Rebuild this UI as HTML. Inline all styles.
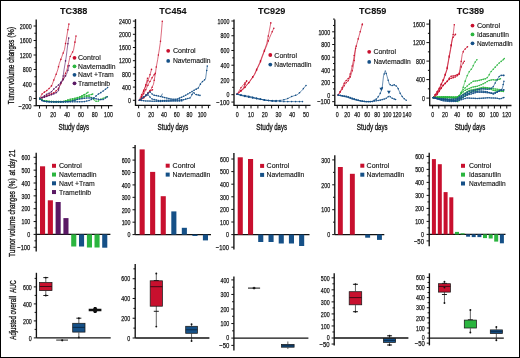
<!DOCTYPE html>
<html><head><meta charset="utf-8"><style>
html,body{margin:0;padding:0;background:#fff;}
svg{display:block;will-change:transform;}
text{font-family:"Liberation Sans", sans-serif;}
</style></head><body>
<svg width="520" height="358" viewBox="0 0 520 358">
<rect width="520" height="358" fill="#fff"/>
<rect x="0.5" y="0.5" width="519" height="357" fill="none" stroke="#000" stroke-width="1"/>
<text x="13.6" y="104.15" font-size="9.4" text-anchor="start" font-weight="normal" fill="#111" textLength="17.6" lengthAdjust="spacingAndGlyphs" transform="rotate(-90 13.6 104.15)" stroke="#111" stroke-width="0.32">Tumor</text>
<text x="13.6" y="85.25" font-size="9.4" text-anchor="start" font-weight="normal" fill="#111" textLength="20.7" lengthAdjust="spacingAndGlyphs" transform="rotate(-90 13.6 85.25)" stroke="#111" stroke-width="0.32">volume</text>
<text x="13.6" y="62.65" font-size="9.4" text-anchor="start" font-weight="normal" fill="#111" textLength="22.9" lengthAdjust="spacingAndGlyphs" transform="rotate(-90 13.6 62.65)" stroke="#111" stroke-width="0.32">changes</text>
<text x="13.6" y="37.85" font-size="9.4" text-anchor="start" font-weight="normal" fill="#111" textLength="11.1" lengthAdjust="spacingAndGlyphs" transform="rotate(-90 13.6 37.85)" stroke="#111" stroke-width="0.32">(%)</text>
<text x="14.8" y="257.05" font-size="9.4" text-anchor="start" font-weight="normal" fill="#111" textLength="18.8" lengthAdjust="spacingAndGlyphs" transform="rotate(-90 14.8 257.05)" stroke="#111" stroke-width="0.32">Tumor</text>
<text x="14.8" y="236.75" font-size="9.4" text-anchor="start" font-weight="normal" fill="#111" textLength="20.5" lengthAdjust="spacingAndGlyphs" transform="rotate(-90 14.8 236.75)" stroke="#111" stroke-width="0.32">volume</text>
<text x="14.8" y="214.55" font-size="9.4" text-anchor="start" font-weight="normal" fill="#111" textLength="23.3" lengthAdjust="spacingAndGlyphs" transform="rotate(-90 14.8 214.55)" stroke="#111" stroke-width="0.32">changes</text>
<text x="14.8" y="188.65" font-size="9.4" text-anchor="start" font-weight="normal" fill="#111" textLength="10.5" lengthAdjust="spacingAndGlyphs" transform="rotate(-90 14.8 188.65)" stroke="#111" stroke-width="0.32">(%)</text>
<text x="14.8" y="175.45" font-size="9.4" text-anchor="start" font-weight="normal" fill="#111" textLength="5.6" lengthAdjust="spacingAndGlyphs" transform="rotate(-90 14.8 175.45)" stroke="#111" stroke-width="0.32">at</text>
<text x="14.8" y="168.15" font-size="9.4" text-anchor="start" font-weight="normal" fill="#111" textLength="9.4" lengthAdjust="spacingAndGlyphs" transform="rotate(-90 14.8 168.15)" stroke="#111" stroke-width="0.32">day</text>
<text x="14.8" y="156.95" font-size="9.4" text-anchor="start" font-weight="normal" fill="#111" textLength="7.2" lengthAdjust="spacingAndGlyphs" transform="rotate(-90 14.8 156.95)" stroke="#111" stroke-width="0.32">21</text>
<text x="16" y="339.65" font-size="9.4" text-anchor="start" font-weight="normal" fill="#111" textLength="23.5" lengthAdjust="spacingAndGlyphs" transform="rotate(-90 16 339.65)" stroke="#111" stroke-width="0.32">Adjusted</text>
<text x="16" y="314.45" font-size="9.4" text-anchor="start" font-weight="normal" fill="#111" textLength="18.6" lengthAdjust="spacingAndGlyphs" transform="rotate(-90 16 314.45)" stroke="#111" stroke-width="0.32">overall</text>
<text x="16" y="292.65" font-size="9.4" text-anchor="start" font-weight="normal" fill="#111" textLength="12.5" lengthAdjust="spacingAndGlyphs" transform="rotate(-90 16 292.65)" stroke="#111" stroke-width="0.32">AUC</text>
<text x="73.7" y="13.7" font-size="9.8" text-anchor="middle" font-weight="bold" fill="#111" textLength="27.3" lengthAdjust="spacingAndGlyphs" stroke="#111" stroke-width="0.1">TC388</text>
<text x="172.95" y="13.7" font-size="9.8" text-anchor="middle" font-weight="bold" fill="#111" textLength="27.3" lengthAdjust="spacingAndGlyphs" stroke="#111" stroke-width="0.1">TC454</text>
<text x="271.65" y="13.7" font-size="9.8" text-anchor="middle" font-weight="bold" fill="#111" textLength="27.3" lengthAdjust="spacingAndGlyphs" stroke="#111" stroke-width="0.1">TC929</text>
<text x="372.7" y="13.7" font-size="9.8" text-anchor="middle" font-weight="bold" fill="#111" textLength="27.3" lengthAdjust="spacingAndGlyphs" stroke="#111" stroke-width="0.1">TC859</text>
<text x="470.45" y="13.7" font-size="9.8" text-anchor="middle" font-weight="bold" fill="#111" textLength="27.3" lengthAdjust="spacingAndGlyphs" stroke="#111" stroke-width="0.1">TC389</text>
<line x1="36.2" y1="19.5" x2="36.2" y2="105.6" stroke="#111" stroke-width="1.35"/>
<line x1="33.6" y1="26" x2="36.2" y2="26" stroke="#111" stroke-width="1"/>
<text x="31.6" y="28.75" font-size="7.9" text-anchor="end" font-weight="normal" fill="#111" textLength="11.8" lengthAdjust="spacingAndGlyphs" stroke="#111" stroke-width="0.25">2000</text>
<line x1="33.6" y1="40.5" x2="36.2" y2="40.5" stroke="#111" stroke-width="1"/>
<text x="31.6" y="43.25" font-size="7.9" text-anchor="end" font-weight="normal" fill="#111" textLength="11.8" lengthAdjust="spacingAndGlyphs" stroke="#111" stroke-width="0.25">1600</text>
<line x1="33.6" y1="55" x2="36.2" y2="55" stroke="#111" stroke-width="1"/>
<text x="31.6" y="57.75" font-size="7.9" text-anchor="end" font-weight="normal" fill="#111" textLength="11.8" lengthAdjust="spacingAndGlyphs" stroke="#111" stroke-width="0.25">1200</text>
<line x1="33.6" y1="69.5" x2="36.2" y2="69.5" stroke="#111" stroke-width="1"/>
<text x="31.6" y="72.25" font-size="7.9" text-anchor="end" font-weight="normal" fill="#111" textLength="8.85" lengthAdjust="spacingAndGlyphs" stroke="#111" stroke-width="0.25">800</text>
<line x1="33.6" y1="84" x2="36.2" y2="84" stroke="#111" stroke-width="1"/>
<text x="31.6" y="86.75" font-size="7.9" text-anchor="end" font-weight="normal" fill="#111" textLength="8.85" lengthAdjust="spacingAndGlyphs" stroke="#111" stroke-width="0.25">400</text>
<line x1="33.6" y1="98.5" x2="36.2" y2="98.5" stroke="#111" stroke-width="1"/>
<text x="31.6" y="101.25" font-size="7.9" text-anchor="end" font-weight="normal" fill="#111" textLength="2.95" lengthAdjust="spacingAndGlyphs" stroke="#111" stroke-width="0.25">0</text>
<line x1="33.6" y1="105.75" x2="36.2" y2="105.75" stroke="#111" stroke-width="1"/>
<text x="31.6" y="108.5" font-size="7.9" text-anchor="end" font-weight="normal" fill="#111" textLength="13.05" lengthAdjust="spacingAndGlyphs" stroke="#111" stroke-width="0.25">−200</text>
<line x1="34.4" y1="33.25" x2="36.2" y2="33.25" stroke="#111" stroke-width="1"/>
<line x1="34.4" y1="47.75" x2="36.2" y2="47.75" stroke="#111" stroke-width="1"/>
<line x1="34.4" y1="62.25" x2="36.2" y2="62.25" stroke="#111" stroke-width="1"/>
<line x1="34.4" y1="76.75" x2="36.2" y2="76.75" stroke="#111" stroke-width="1"/>
<line x1="34.4" y1="91.25" x2="36.2" y2="91.25" stroke="#111" stroke-width="1"/>
<line x1="35.6" y1="105.6" x2="112.5" y2="105.6" stroke="#111" stroke-width="1.35"/>
<line x1="39.5" y1="105.6" x2="39.5" y2="108.6" stroke="#111" stroke-width="1"/>
<line x1="46.4" y1="105.6" x2="46.4" y2="108.6" stroke="#111" stroke-width="1"/>
<line x1="53.3" y1="105.6" x2="53.3" y2="108.6" stroke="#111" stroke-width="1"/>
<line x1="60.2" y1="105.6" x2="60.2" y2="108.6" stroke="#111" stroke-width="1"/>
<line x1="67.1" y1="105.6" x2="67.1" y2="108.6" stroke="#111" stroke-width="1"/>
<line x1="74" y1="105.6" x2="74" y2="108.6" stroke="#111" stroke-width="1"/>
<line x1="80.9" y1="105.6" x2="80.9" y2="108.6" stroke="#111" stroke-width="1"/>
<line x1="87.8" y1="105.6" x2="87.8" y2="108.6" stroke="#111" stroke-width="1"/>
<line x1="94.7" y1="105.6" x2="94.7" y2="108.6" stroke="#111" stroke-width="1"/>
<line x1="101.6" y1="105.6" x2="101.6" y2="108.6" stroke="#111" stroke-width="1"/>
<line x1="108.5" y1="105.6" x2="108.5" y2="108.6" stroke="#111" stroke-width="1"/>
<text x="39.5" y="117.4" font-size="7.9" text-anchor="middle" font-weight="normal" fill="#111" textLength="2.95" lengthAdjust="spacingAndGlyphs" stroke="#111" stroke-width="0.25">0</text>
<text x="53.3" y="117.4" font-size="7.9" text-anchor="middle" font-weight="normal" fill="#111" textLength="5.9" lengthAdjust="spacingAndGlyphs" stroke="#111" stroke-width="0.25">20</text>
<text x="67.1" y="117.4" font-size="7.9" text-anchor="middle" font-weight="normal" fill="#111" textLength="5.9" lengthAdjust="spacingAndGlyphs" stroke="#111" stroke-width="0.25">40</text>
<text x="80.9" y="117.4" font-size="7.9" text-anchor="middle" font-weight="normal" fill="#111" textLength="5.9" lengthAdjust="spacingAndGlyphs" stroke="#111" stroke-width="0.25">60</text>
<text x="94.7" y="117.4" font-size="7.9" text-anchor="middle" font-weight="normal" fill="#111" textLength="5.9" lengthAdjust="spacingAndGlyphs" stroke="#111" stroke-width="0.25">80</text>
<text x="108.5" y="117.4" font-size="7.9" text-anchor="middle" font-weight="normal" fill="#111" textLength="8.85" lengthAdjust="spacingAndGlyphs" stroke="#111" stroke-width="0.25">100</text>
<text x="58.45" y="130.2" font-size="9.4" text-anchor="start" font-weight="normal" fill="#111" textLength="16.3" lengthAdjust="spacingAndGlyphs" stroke="#111" stroke-width="0.32">Study</text>
<text x="76.35" y="130.2" font-size="9.4" text-anchor="start" font-weight="normal" fill="#111" textLength="12.8" lengthAdjust="spacingAndGlyphs" stroke="#111" stroke-width="0.32">days</text>
<line x1="135.5" y1="19.1" x2="135.5" y2="105.3" stroke="#111" stroke-width="1.35"/>
<line x1="132.9" y1="21.1" x2="135.5" y2="21.1" stroke="#111" stroke-width="1"/>
<text x="130.9" y="23.85" font-size="7.9" text-anchor="end" font-weight="normal" fill="#111" textLength="11.8" lengthAdjust="spacingAndGlyphs" stroke="#111" stroke-width="0.25">2400</text>
<line x1="132.9" y1="34.3" x2="135.5" y2="34.3" stroke="#111" stroke-width="1"/>
<text x="130.9" y="37.05" font-size="7.9" text-anchor="end" font-weight="normal" fill="#111" textLength="11.8" lengthAdjust="spacingAndGlyphs" stroke="#111" stroke-width="0.25">2000</text>
<line x1="132.9" y1="47.5" x2="135.5" y2="47.5" stroke="#111" stroke-width="1"/>
<text x="130.9" y="50.25" font-size="7.9" text-anchor="end" font-weight="normal" fill="#111" textLength="11.8" lengthAdjust="spacingAndGlyphs" stroke="#111" stroke-width="0.25">1600</text>
<line x1="132.9" y1="60.7" x2="135.5" y2="60.7" stroke="#111" stroke-width="1"/>
<text x="130.9" y="63.45" font-size="7.9" text-anchor="end" font-weight="normal" fill="#111" textLength="11.8" lengthAdjust="spacingAndGlyphs" stroke="#111" stroke-width="0.25">1200</text>
<line x1="132.9" y1="73.9" x2="135.5" y2="73.9" stroke="#111" stroke-width="1"/>
<text x="130.9" y="76.65" font-size="7.9" text-anchor="end" font-weight="normal" fill="#111" textLength="8.85" lengthAdjust="spacingAndGlyphs" stroke="#111" stroke-width="0.25">800</text>
<line x1="132.9" y1="87.1" x2="135.5" y2="87.1" stroke="#111" stroke-width="1"/>
<text x="130.9" y="89.85" font-size="7.9" text-anchor="end" font-weight="normal" fill="#111" textLength="8.85" lengthAdjust="spacingAndGlyphs" stroke="#111" stroke-width="0.25">400</text>
<line x1="132.9" y1="100.3" x2="135.5" y2="100.3" stroke="#111" stroke-width="1"/>
<text x="130.9" y="103.05" font-size="7.9" text-anchor="end" font-weight="normal" fill="#111" textLength="2.95" lengthAdjust="spacingAndGlyphs" stroke="#111" stroke-width="0.25">0</text>
<line x1="133.7" y1="27.7" x2="135.5" y2="27.7" stroke="#111" stroke-width="1"/>
<line x1="133.7" y1="40.9" x2="135.5" y2="40.9" stroke="#111" stroke-width="1"/>
<line x1="133.7" y1="54.1" x2="135.5" y2="54.1" stroke="#111" stroke-width="1"/>
<line x1="133.7" y1="67.3" x2="135.5" y2="67.3" stroke="#111" stroke-width="1"/>
<line x1="133.7" y1="80.5" x2="135.5" y2="80.5" stroke="#111" stroke-width="1"/>
<line x1="133.7" y1="93.7" x2="135.5" y2="93.7" stroke="#111" stroke-width="1"/>
<line x1="134.9" y1="105.3" x2="210.5" y2="105.3" stroke="#111" stroke-width="1.35"/>
<line x1="138.6" y1="105.3" x2="138.6" y2="108.3" stroke="#111" stroke-width="1"/>
<line x1="144.95" y1="105.3" x2="144.95" y2="108.3" stroke="#111" stroke-width="1"/>
<line x1="151.3" y1="105.3" x2="151.3" y2="108.3" stroke="#111" stroke-width="1"/>
<line x1="157.65" y1="105.3" x2="157.65" y2="108.3" stroke="#111" stroke-width="1"/>
<line x1="164" y1="105.3" x2="164" y2="108.3" stroke="#111" stroke-width="1"/>
<line x1="170.35" y1="105.3" x2="170.35" y2="108.3" stroke="#111" stroke-width="1"/>
<line x1="176.7" y1="105.3" x2="176.7" y2="108.3" stroke="#111" stroke-width="1"/>
<line x1="183.05" y1="105.3" x2="183.05" y2="108.3" stroke="#111" stroke-width="1"/>
<line x1="189.4" y1="105.3" x2="189.4" y2="108.3" stroke="#111" stroke-width="1"/>
<line x1="195.75" y1="105.3" x2="195.75" y2="108.3" stroke="#111" stroke-width="1"/>
<line x1="202.1" y1="105.3" x2="202.1" y2="108.3" stroke="#111" stroke-width="1"/>
<line x1="208.45" y1="105.3" x2="208.45" y2="108.3" stroke="#111" stroke-width="1"/>
<text x="138.6" y="117.4" font-size="7.9" text-anchor="middle" font-weight="normal" fill="#111" textLength="2.95" lengthAdjust="spacingAndGlyphs" stroke="#111" stroke-width="0.25">0</text>
<text x="151.3" y="117.4" font-size="7.9" text-anchor="middle" font-weight="normal" fill="#111" textLength="5.9" lengthAdjust="spacingAndGlyphs" stroke="#111" stroke-width="0.25">20</text>
<text x="164" y="117.4" font-size="7.9" text-anchor="middle" font-weight="normal" fill="#111" textLength="5.9" lengthAdjust="spacingAndGlyphs" stroke="#111" stroke-width="0.25">40</text>
<text x="176.7" y="117.4" font-size="7.9" text-anchor="middle" font-weight="normal" fill="#111" textLength="5.9" lengthAdjust="spacingAndGlyphs" stroke="#111" stroke-width="0.25">60</text>
<text x="189.4" y="117.4" font-size="7.9" text-anchor="middle" font-weight="normal" fill="#111" textLength="5.9" lengthAdjust="spacingAndGlyphs" stroke="#111" stroke-width="0.25">80</text>
<text x="202.1" y="117.4" font-size="7.9" text-anchor="middle" font-weight="normal" fill="#111" textLength="8.85" lengthAdjust="spacingAndGlyphs" stroke="#111" stroke-width="0.25">100</text>
<text x="157.55" y="130.2" font-size="9.4" text-anchor="start" font-weight="normal" fill="#111" textLength="16.3" lengthAdjust="spacingAndGlyphs" stroke="#111" stroke-width="0.32">Study</text>
<text x="175.45" y="130.2" font-size="9.4" text-anchor="start" font-weight="normal" fill="#111" textLength="12.8" lengthAdjust="spacingAndGlyphs" stroke="#111" stroke-width="0.32">days</text>
<line x1="234" y1="19.5" x2="234" y2="105.4" stroke="#111" stroke-width="1.35"/>
<line x1="231.4" y1="21" x2="234" y2="21" stroke="#111" stroke-width="1"/>
<text x="229.4" y="23.75" font-size="7.9" text-anchor="end" font-weight="normal" fill="#111" textLength="11.8" lengthAdjust="spacingAndGlyphs" stroke="#111" stroke-width="0.25">1000</text>
<line x1="231.4" y1="35.74" x2="234" y2="35.74" stroke="#111" stroke-width="1"/>
<text x="229.4" y="38.49" font-size="7.9" text-anchor="end" font-weight="normal" fill="#111" textLength="8.85" lengthAdjust="spacingAndGlyphs" stroke="#111" stroke-width="0.25">800</text>
<line x1="231.4" y1="50.48" x2="234" y2="50.48" stroke="#111" stroke-width="1"/>
<text x="229.4" y="53.23" font-size="7.9" text-anchor="end" font-weight="normal" fill="#111" textLength="8.85" lengthAdjust="spacingAndGlyphs" stroke="#111" stroke-width="0.25">600</text>
<line x1="231.4" y1="65.22" x2="234" y2="65.22" stroke="#111" stroke-width="1"/>
<text x="229.4" y="67.97" font-size="7.9" text-anchor="end" font-weight="normal" fill="#111" textLength="8.85" lengthAdjust="spacingAndGlyphs" stroke="#111" stroke-width="0.25">400</text>
<line x1="231.4" y1="79.96" x2="234" y2="79.96" stroke="#111" stroke-width="1"/>
<text x="229.4" y="82.71" font-size="7.9" text-anchor="end" font-weight="normal" fill="#111" textLength="8.85" lengthAdjust="spacingAndGlyphs" stroke="#111" stroke-width="0.25">200</text>
<line x1="231.4" y1="94.7" x2="234" y2="94.7" stroke="#111" stroke-width="1"/>
<text x="229.4" y="97.45" font-size="7.9" text-anchor="end" font-weight="normal" fill="#111" textLength="2.95" lengthAdjust="spacingAndGlyphs" stroke="#111" stroke-width="0.25">0</text>
<line x1="231.4" y1="102.07" x2="234" y2="102.07" stroke="#111" stroke-width="1"/>
<text x="229.4" y="104.82" font-size="7.9" text-anchor="end" font-weight="normal" fill="#111" textLength="13.05" lengthAdjust="spacingAndGlyphs" stroke="#111" stroke-width="0.25">−100</text>
<line x1="232.2" y1="28.37" x2="234" y2="28.37" stroke="#111" stroke-width="1"/>
<line x1="232.2" y1="43.11" x2="234" y2="43.11" stroke="#111" stroke-width="1"/>
<line x1="232.2" y1="57.85" x2="234" y2="57.85" stroke="#111" stroke-width="1"/>
<line x1="232.2" y1="72.59" x2="234" y2="72.59" stroke="#111" stroke-width="1"/>
<line x1="232.2" y1="87.33" x2="234" y2="87.33" stroke="#111" stroke-width="1"/>
<line x1="233.4" y1="105.4" x2="310.5" y2="105.4" stroke="#111" stroke-width="1.35"/>
<line x1="237.3" y1="105.4" x2="237.3" y2="108.4" stroke="#111" stroke-width="1"/>
<line x1="244.16" y1="105.4" x2="244.16" y2="108.4" stroke="#111" stroke-width="1"/>
<line x1="251.02" y1="105.4" x2="251.02" y2="108.4" stroke="#111" stroke-width="1"/>
<line x1="257.88" y1="105.4" x2="257.88" y2="108.4" stroke="#111" stroke-width="1"/>
<line x1="264.74" y1="105.4" x2="264.74" y2="108.4" stroke="#111" stroke-width="1"/>
<line x1="271.6" y1="105.4" x2="271.6" y2="108.4" stroke="#111" stroke-width="1"/>
<line x1="278.46" y1="105.4" x2="278.46" y2="108.4" stroke="#111" stroke-width="1"/>
<line x1="285.32" y1="105.4" x2="285.32" y2="108.4" stroke="#111" stroke-width="1"/>
<line x1="292.18" y1="105.4" x2="292.18" y2="108.4" stroke="#111" stroke-width="1"/>
<line x1="299.04" y1="105.4" x2="299.04" y2="108.4" stroke="#111" stroke-width="1"/>
<line x1="305.9" y1="105.4" x2="305.9" y2="108.4" stroke="#111" stroke-width="1"/>
<text x="237.3" y="117.4" font-size="7.9" text-anchor="middle" font-weight="normal" fill="#111" textLength="2.95" lengthAdjust="spacingAndGlyphs" stroke="#111" stroke-width="0.25">0</text>
<text x="251.02" y="117.4" font-size="7.9" text-anchor="middle" font-weight="normal" fill="#111" textLength="5.9" lengthAdjust="spacingAndGlyphs" stroke="#111" stroke-width="0.25">10</text>
<text x="264.74" y="117.4" font-size="7.9" text-anchor="middle" font-weight="normal" fill="#111" textLength="5.9" lengthAdjust="spacingAndGlyphs" stroke="#111" stroke-width="0.25">20</text>
<text x="278.46" y="117.4" font-size="7.9" text-anchor="middle" font-weight="normal" fill="#111" textLength="5.9" lengthAdjust="spacingAndGlyphs" stroke="#111" stroke-width="0.25">30</text>
<text x="292.18" y="117.4" font-size="7.9" text-anchor="middle" font-weight="normal" fill="#111" textLength="5.9" lengthAdjust="spacingAndGlyphs" stroke="#111" stroke-width="0.25">40</text>
<text x="305.9" y="117.4" font-size="7.9" text-anchor="middle" font-weight="normal" fill="#111" textLength="5.9" lengthAdjust="spacingAndGlyphs" stroke="#111" stroke-width="0.25">50</text>
<text x="256.35" y="130.2" font-size="9.4" text-anchor="start" font-weight="normal" fill="#111" textLength="16.3" lengthAdjust="spacingAndGlyphs" stroke="#111" stroke-width="0.32">Study</text>
<text x="274.25" y="130.2" font-size="9.4" text-anchor="start" font-weight="normal" fill="#111" textLength="12.8" lengthAdjust="spacingAndGlyphs" stroke="#111" stroke-width="0.32">days</text>
<line x1="334.8" y1="19.6" x2="334.8" y2="105.4" stroke="#111" stroke-width="1.35"/>
<line x1="332.2" y1="31.8" x2="334.8" y2="31.8" stroke="#111" stroke-width="1"/>
<text x="330.2" y="34.55" font-size="7.9" text-anchor="end" font-weight="normal" fill="#111" textLength="11.8" lengthAdjust="spacingAndGlyphs" stroke="#111" stroke-width="0.25">1000</text>
<line x1="332.2" y1="44.5" x2="334.8" y2="44.5" stroke="#111" stroke-width="1"/>
<text x="330.2" y="47.25" font-size="7.9" text-anchor="end" font-weight="normal" fill="#111" textLength="8.85" lengthAdjust="spacingAndGlyphs" stroke="#111" stroke-width="0.25">800</text>
<line x1="332.2" y1="57.2" x2="334.8" y2="57.2" stroke="#111" stroke-width="1"/>
<text x="330.2" y="59.95" font-size="7.9" text-anchor="end" font-weight="normal" fill="#111" textLength="8.85" lengthAdjust="spacingAndGlyphs" stroke="#111" stroke-width="0.25">600</text>
<line x1="332.2" y1="69.9" x2="334.8" y2="69.9" stroke="#111" stroke-width="1"/>
<text x="330.2" y="72.65" font-size="7.9" text-anchor="end" font-weight="normal" fill="#111" textLength="8.85" lengthAdjust="spacingAndGlyphs" stroke="#111" stroke-width="0.25">400</text>
<line x1="332.2" y1="82.6" x2="334.8" y2="82.6" stroke="#111" stroke-width="1"/>
<text x="330.2" y="85.35" font-size="7.9" text-anchor="end" font-weight="normal" fill="#111" textLength="8.85" lengthAdjust="spacingAndGlyphs" stroke="#111" stroke-width="0.25">200</text>
<line x1="332.2" y1="95.3" x2="334.8" y2="95.3" stroke="#111" stroke-width="1"/>
<text x="330.2" y="98.05" font-size="7.9" text-anchor="end" font-weight="normal" fill="#111" textLength="2.95" lengthAdjust="spacingAndGlyphs" stroke="#111" stroke-width="0.25">0</text>
<line x1="332.2" y1="101.65" x2="334.8" y2="101.65" stroke="#111" stroke-width="1"/>
<text x="330.2" y="104.4" font-size="7.9" text-anchor="end" font-weight="normal" fill="#111" textLength="13.05" lengthAdjust="spacingAndGlyphs" stroke="#111" stroke-width="0.25">−100</text>
<line x1="333" y1="19.1" x2="334.8" y2="19.1" stroke="#111" stroke-width="1"/>
<line x1="333" y1="25.45" x2="334.8" y2="25.45" stroke="#111" stroke-width="1"/>
<line x1="333" y1="38.15" x2="334.8" y2="38.15" stroke="#111" stroke-width="1"/>
<line x1="333" y1="50.85" x2="334.8" y2="50.85" stroke="#111" stroke-width="1"/>
<line x1="333" y1="63.55" x2="334.8" y2="63.55" stroke="#111" stroke-width="1"/>
<line x1="333" y1="76.25" x2="334.8" y2="76.25" stroke="#111" stroke-width="1"/>
<line x1="333" y1="88.95" x2="334.8" y2="88.95" stroke="#111" stroke-width="1"/>
<line x1="334.2" y1="105.4" x2="411.5" y2="105.4" stroke="#111" stroke-width="1.35"/>
<line x1="337.3" y1="105.4" x2="337.3" y2="108.4" stroke="#111" stroke-width="1"/>
<line x1="342.28" y1="105.4" x2="342.28" y2="108.4" stroke="#111" stroke-width="1"/>
<line x1="347.26" y1="105.4" x2="347.26" y2="108.4" stroke="#111" stroke-width="1"/>
<line x1="352.24" y1="105.4" x2="352.24" y2="108.4" stroke="#111" stroke-width="1"/>
<line x1="357.22" y1="105.4" x2="357.22" y2="108.4" stroke="#111" stroke-width="1"/>
<line x1="362.2" y1="105.4" x2="362.2" y2="108.4" stroke="#111" stroke-width="1"/>
<line x1="367.18" y1="105.4" x2="367.18" y2="108.4" stroke="#111" stroke-width="1"/>
<line x1="372.16" y1="105.4" x2="372.16" y2="108.4" stroke="#111" stroke-width="1"/>
<line x1="377.14" y1="105.4" x2="377.14" y2="108.4" stroke="#111" stroke-width="1"/>
<line x1="382.12" y1="105.4" x2="382.12" y2="108.4" stroke="#111" stroke-width="1"/>
<line x1="387.1" y1="105.4" x2="387.1" y2="108.4" stroke="#111" stroke-width="1"/>
<line x1="392.08" y1="105.4" x2="392.08" y2="108.4" stroke="#111" stroke-width="1"/>
<line x1="397.06" y1="105.4" x2="397.06" y2="108.4" stroke="#111" stroke-width="1"/>
<line x1="402.04" y1="105.4" x2="402.04" y2="108.4" stroke="#111" stroke-width="1"/>
<line x1="407.02" y1="105.4" x2="407.02" y2="108.4" stroke="#111" stroke-width="1"/>
<text x="337.3" y="117.4" font-size="7.9" text-anchor="middle" font-weight="normal" fill="#111" textLength="2.95" lengthAdjust="spacingAndGlyphs" stroke="#111" stroke-width="0.25">0</text>
<text x="347.26" y="117.4" font-size="7.9" text-anchor="middle" font-weight="normal" fill="#111" textLength="5.9" lengthAdjust="spacingAndGlyphs" stroke="#111" stroke-width="0.25">20</text>
<text x="357.22" y="117.4" font-size="7.9" text-anchor="middle" font-weight="normal" fill="#111" textLength="5.9" lengthAdjust="spacingAndGlyphs" stroke="#111" stroke-width="0.25">40</text>
<text x="367.18" y="117.4" font-size="7.9" text-anchor="middle" font-weight="normal" fill="#111" textLength="5.9" lengthAdjust="spacingAndGlyphs" stroke="#111" stroke-width="0.25">60</text>
<text x="377.14" y="117.4" font-size="7.9" text-anchor="middle" font-weight="normal" fill="#111" textLength="5.9" lengthAdjust="spacingAndGlyphs" stroke="#111" stroke-width="0.25">80</text>
<text x="387.1" y="117.4" font-size="7.9" text-anchor="middle" font-weight="normal" fill="#111" textLength="8.85" lengthAdjust="spacingAndGlyphs" stroke="#111" stroke-width="0.25">100</text>
<text x="397.06" y="117.4" font-size="7.9" text-anchor="middle" font-weight="normal" fill="#111" textLength="8.85" lengthAdjust="spacingAndGlyphs" stroke="#111" stroke-width="0.25">120</text>
<text x="407.02" y="117.4" font-size="7.9" text-anchor="middle" font-weight="normal" fill="#111" textLength="8.85" lengthAdjust="spacingAndGlyphs" stroke="#111" stroke-width="0.25">140</text>
<text x="356.85" y="130.2" font-size="9.4" text-anchor="start" font-weight="normal" fill="#111" textLength="16.3" lengthAdjust="spacingAndGlyphs" stroke="#111" stroke-width="0.32">Study</text>
<text x="374.75" y="130.2" font-size="9.4" text-anchor="start" font-weight="normal" fill="#111" textLength="12.8" lengthAdjust="spacingAndGlyphs" stroke="#111" stroke-width="0.32">days</text>
<line x1="429.7" y1="19.6" x2="429.7" y2="105.5" stroke="#111" stroke-width="1.35"/>
<line x1="426.4" y1="24.1" x2="429.7" y2="24.1" stroke="#111" stroke-width="1"/>
<text x="424.9" y="26.85" font-size="7.9" text-anchor="end" font-weight="normal" fill="#111" textLength="11.8" lengthAdjust="spacingAndGlyphs" stroke="#111" stroke-width="0.25">1600</text>
<line x1="426.4" y1="42.6" x2="429.7" y2="42.6" stroke="#111" stroke-width="1"/>
<text x="424.9" y="45.35" font-size="7.9" text-anchor="end" font-weight="normal" fill="#111" textLength="11.8" lengthAdjust="spacingAndGlyphs" stroke="#111" stroke-width="0.25">1200</text>
<line x1="426.4" y1="61.1" x2="429.7" y2="61.1" stroke="#111" stroke-width="1"/>
<text x="424.9" y="63.85" font-size="7.9" text-anchor="end" font-weight="normal" fill="#111" textLength="8.85" lengthAdjust="spacingAndGlyphs" stroke="#111" stroke-width="0.25">800</text>
<line x1="426.4" y1="79.6" x2="429.7" y2="79.6" stroke="#111" stroke-width="1"/>
<text x="424.9" y="82.35" font-size="7.9" text-anchor="end" font-weight="normal" fill="#111" textLength="8.85" lengthAdjust="spacingAndGlyphs" stroke="#111" stroke-width="0.25">400</text>
<line x1="426.4" y1="98.1" x2="429.7" y2="98.1" stroke="#111" stroke-width="1"/>
<text x="424.9" y="100.85" font-size="7.9" text-anchor="end" font-weight="normal" fill="#111" textLength="2.95" lengthAdjust="spacingAndGlyphs" stroke="#111" stroke-width="0.25">0</text>
<line x1="427.9" y1="33.35" x2="429.7" y2="33.35" stroke="#111" stroke-width="1"/>
<line x1="427.9" y1="51.85" x2="429.7" y2="51.85" stroke="#111" stroke-width="1"/>
<line x1="427.9" y1="70.35" x2="429.7" y2="70.35" stroke="#111" stroke-width="1"/>
<line x1="427.9" y1="88.85" x2="429.7" y2="88.85" stroke="#111" stroke-width="1"/>
<line x1="429.1" y1="105.5" x2="511.5" y2="105.5" stroke="#111" stroke-width="1.35"/>
<line x1="432.6" y1="105.5" x2="432.6" y2="108.5" stroke="#111" stroke-width="1"/>
<line x1="438.78" y1="105.5" x2="438.78" y2="108.5" stroke="#111" stroke-width="1"/>
<line x1="444.96" y1="105.5" x2="444.96" y2="108.5" stroke="#111" stroke-width="1"/>
<line x1="451.14" y1="105.5" x2="451.14" y2="108.5" stroke="#111" stroke-width="1"/>
<line x1="457.32" y1="105.5" x2="457.32" y2="108.5" stroke="#111" stroke-width="1"/>
<line x1="463.5" y1="105.5" x2="463.5" y2="108.5" stroke="#111" stroke-width="1"/>
<line x1="469.68" y1="105.5" x2="469.68" y2="108.5" stroke="#111" stroke-width="1"/>
<line x1="475.86" y1="105.5" x2="475.86" y2="108.5" stroke="#111" stroke-width="1"/>
<line x1="482.04" y1="105.5" x2="482.04" y2="108.5" stroke="#111" stroke-width="1"/>
<line x1="488.22" y1="105.5" x2="488.22" y2="108.5" stroke="#111" stroke-width="1"/>
<line x1="494.4" y1="105.5" x2="494.4" y2="108.5" stroke="#111" stroke-width="1"/>
<line x1="500.58" y1="105.5" x2="500.58" y2="108.5" stroke="#111" stroke-width="1"/>
<line x1="506.76" y1="105.5" x2="506.76" y2="108.5" stroke="#111" stroke-width="1"/>
<text x="432.6" y="117.4" font-size="7.9" text-anchor="middle" font-weight="normal" fill="#111" textLength="2.95" lengthAdjust="spacingAndGlyphs" stroke="#111" stroke-width="0.25">0</text>
<text x="444.96" y="117.4" font-size="7.9" text-anchor="middle" font-weight="normal" fill="#111" textLength="5.9" lengthAdjust="spacingAndGlyphs" stroke="#111" stroke-width="0.25">20</text>
<text x="457.32" y="117.4" font-size="7.9" text-anchor="middle" font-weight="normal" fill="#111" textLength="5.9" lengthAdjust="spacingAndGlyphs" stroke="#111" stroke-width="0.25">40</text>
<text x="469.68" y="117.4" font-size="7.9" text-anchor="middle" font-weight="normal" fill="#111" textLength="5.9" lengthAdjust="spacingAndGlyphs" stroke="#111" stroke-width="0.25">60</text>
<text x="482.04" y="117.4" font-size="7.9" text-anchor="middle" font-weight="normal" fill="#111" textLength="5.9" lengthAdjust="spacingAndGlyphs" stroke="#111" stroke-width="0.25">80</text>
<text x="494.4" y="117.4" font-size="7.9" text-anchor="middle" font-weight="normal" fill="#111" textLength="8.85" lengthAdjust="spacingAndGlyphs" stroke="#111" stroke-width="0.25">100</text>
<text x="506.76" y="117.4" font-size="7.9" text-anchor="middle" font-weight="normal" fill="#111" textLength="8.85" lengthAdjust="spacingAndGlyphs" stroke="#111" stroke-width="0.25">120</text>
<text x="454.65" y="130.2" font-size="9.4" text-anchor="start" font-weight="normal" fill="#111" textLength="16.3" lengthAdjust="spacingAndGlyphs" stroke="#111" stroke-width="0.32">Study</text>
<text x="472.55" y="130.2" font-size="9.4" text-anchor="start" font-weight="normal" fill="#111" textLength="12.8" lengthAdjust="spacingAndGlyphs" stroke="#111" stroke-width="0.32">days</text>
<polyline points="39.7,98.6 41.8,94.3 43,93 46.4,90.9 48.9,88.8 51.8,85.5 53.5,80.9 54.8,77.5 56,74.6 57.7,70 59.3,63.5 61,59 62.8,54 64.5,49.6 66,41 67.5,32 68.9,24.1" fill="none" stroke="#c8102e" stroke-width="0.62" stroke-linejoin="round"/>
<path d="M39.7,98.6h0M42.05,94.03h0M44.4,92.14h0M46.75,90.61h0M49.1,88.57h0M51.45,85.9h0M53.8,80.12h0M56.15,74.19h0M58.5,66.75h0M60.85,59.4h0M63.2,52.96h0M65.55,43.58h0M67.9,29.74h0M68.9,24.1h0" stroke="#c8102e" stroke-width="1.56" stroke-linecap="round"/>
<polyline points="39.7,98.6 46.4,96 50.6,94.3 54.8,92.2 58.5,88.4 62.3,80.9 64,77.1 66.9,70 68.7,62.7 69.8,57.4 71.5,54 73.5,50.2 74.8,43 76,36" fill="none" stroke="#c8102e" stroke-width="0.62" stroke-linejoin="round"/>
<path d="M39.7,98.6h0M42.05,97.69h0M44.4,96.78h0M46.75,95.86h0M49.1,94.91h0M51.45,93.88h0M53.8,92.7h0M56.15,90.81h0M58.5,88.4h0M60.85,83.76h0M63.2,78.89h0M65.55,73.31h0M67.9,65.94h0M70.25,56.5h0M72.6,51.91h0M74.95,42.13h0M76,36h0" stroke="#c8102e" stroke-width="1.56" stroke-linecap="round"/>
<polyline points="39.7,98.6 43.5,96.5 47.2,93.9 50.6,92.6 54.8,88 58.9,84.7 60.6,82.6 62.3,80 63.1,76.7 64,70 65.2,63 66.2,57 67.3,48 68.7,38.1" fill="none" stroke="#5a1964" stroke-width="0.62" stroke-linejoin="round"/>
<path d="M39.7,98.6h0M42.05,97.3h0M44.4,95.87h0M46.75,94.22h0M49.1,93.17h0M51.45,91.67h0M53.8,89.1h0M56.15,86.91h0M58.5,85.02h0M60.85,82.22h0M63.2,75.96h0M65.55,60.9h0M67.9,43.76h0M68.7,38.1h0" stroke="#5a1964" stroke-width="1.56" stroke-linecap="round"/>
<polyline points="39.7,98.6 46.4,96.5 50.6,95 54.8,93.5 58.1,91.4 59.4,86.8 60.6,83.4 63,80 65.5,76 67.3,72.5 69.1,65.6" fill="none" stroke="#5a1964" stroke-width="0.62" stroke-linejoin="round"/>
<path d="M39.7,98.6h0M42.05,97.86h0M44.4,97.13h0M46.75,96.38h0M49.1,95.54h0M51.45,94.7h0M53.8,93.86h0M56.15,92.64h0M58.5,89.98h0M60.85,83.05h0M63.2,79.68h0M65.55,75.9h0M67.9,70.2h0M69.1,65.6h0" stroke="#5a1964" stroke-width="1.56" stroke-linecap="round"/>
<polyline points="39.7,98.6 42,100.2 45,101 50,101.5 55,101.6 60,101.6 64,101.4 66.5,100.6 68.7,99.5 73.5,98.5 78.2,97.4 82.2,96.1 84.9,94.4 88,92.3" fill="none" stroke="#2bb53f" stroke-width="0.62" stroke-linejoin="round"/>
<path d="M39.7,98.6h0M42.05,100.21h0M44.4,100.84h0M46.75,101.17h0M49.1,101.41h0M51.45,101.53h0M53.8,101.58h0M56.15,101.6h0M58.5,101.6h0M60.85,101.56h0M63.2,101.44h0M65.55,100.9h0M67.9,99.9h0M70.25,99.18h0M72.6,98.69h0M74.95,98.16h0M77.3,97.61h0M79.65,96.93h0M82,96.17h0M84.35,94.75h0M86.7,93.18h0M88,92.3h0" stroke="#2bb53f" stroke-width="1.56" stroke-linecap="round"/>
<polyline points="39.7,98.6 43,100.6 48,101.5 55,101.7 62,101.6 68,100.8 74,99.5 79,97.6 84,94.5 86.9,95.6 89.5,95 92.7,94.1" fill="none" stroke="#2bb53f" stroke-width="0.62" stroke-linejoin="round"/>
<path d="M39.7,98.6h0M42.05,100.02h0M44.4,100.85h0M46.75,101.28h0M49.1,101.53h0M51.45,101.6h0M53.8,101.67h0M56.15,101.68h0M58.5,101.65h0M60.85,101.62h0M63.2,101.44h0M65.55,101.13h0M67.9,100.81h0M70.25,100.31h0M72.6,99.8h0M74.95,99.14h0M77.3,98.25h0M79.65,97.2h0M82,95.74h0M84.35,94.63h0M86.7,95.52h0M89.05,95.1h0M91.4,94.47h0M92.7,94.1h0" stroke="#2bb53f" stroke-width="1.56" stroke-linecap="round"/>
<polyline points="39.7,98.6 44,100.9 52,101.6 62,101.7 70,101 76,99.8 80,98.2 84,96.9 88.4,96.2 92.7,98.1 94.9,101 97.8,101.4 100.7,99.2 104.3,97.8 107.2,96.7" fill="none" stroke="#2bb53f" stroke-width="0.62" stroke-linejoin="round"/>
<path d="M39.7,98.6h0M42.05,99.86h0M44.4,100.94h0M46.75,101.14h0M49.1,101.35h0M51.45,101.55h0M53.8,101.62h0M56.15,101.64h0M58.5,101.67h0M60.85,101.69h0M63.2,101.59h0M65.55,101.39h0M67.9,101.18h0M70.25,100.95h0M72.6,100.48h0M74.95,100.01h0M77.3,99.28h0M79.65,98.34h0M82,97.55h0M84.35,96.84h0M86.7,96.47h0M89.05,96.49h0M91.4,97.53h0M93.75,99.48h0M96.1,101.17h0M98.45,100.91h0M100.8,99.16h0M103.15,98.25h0M105.5,97.34h0M107.2,96.7h0" stroke="#2bb53f" stroke-width="1.56" stroke-linecap="round"/>
<polyline points="39.7,98.6 42,100.6 45,101.5 50,101.8 60,101.8 70,101.8 78,101.8 84,101.7 88.4,100.7 91.3,99.6 94.2,97.8 97.1,94.9 100.7,92.7 104.3,90.2 107.6,87.6" fill="none" stroke="#155087" stroke-width="0.62" stroke-linejoin="round"/>
<path d="M39.7,98.6h0M42.05,100.61h0M44.4,101.32h0M46.75,101.61h0M49.1,101.75h0M51.45,101.8h0M53.8,101.8h0M56.15,101.8h0M58.5,101.8h0M60.85,101.8h0M63.2,101.8h0M65.55,101.8h0M67.9,101.8h0M70.25,101.8h0M72.6,101.8h0M74.95,101.8h0M77.3,101.8h0M79.65,101.77h0M82,101.73h0M84.35,101.62h0M86.7,101.09h0M89.05,100.45h0M91.4,99.54h0M93.75,98.08h0M96.1,95.9h0M98.45,94.08h0M100.8,92.63h0M103.15,91h0M105.5,89.25h0M107.6,87.6h0" stroke="#155087" stroke-width="1.56" stroke-linecap="round"/>
<polyline points="39.7,98.6 43,101.2 48,101.8 56,102 64,101.9 70,101.5 74,100.5 78,99.3 84,98.3 88.4,97.9 92.7,98.1 96.3,98.9 100,99.6 102.9,99.6 105,98.5 107.2,96.7" fill="none" stroke="#155087" stroke-width="0.62" stroke-linejoin="round"/>
<path d="M39.7,98.6h0M42.05,100.45h0M44.4,101.37h0M46.75,101.65h0M49.1,101.83h0M51.45,101.89h0M53.8,101.94h0M56.15,102h0M58.5,101.97h0M60.85,101.94h0M63.2,101.91h0M65.55,101.8h0M67.9,101.64h0M70.25,101.44h0M72.6,100.85h0M74.95,100.22h0M77.3,99.51h0M79.65,99.03h0M82,98.63h0M84.35,98.27h0M86.7,98.05h0M89.05,97.93h0M91.4,98.04h0M93.75,98.33h0M96.1,98.86h0M98.45,99.31h0M100.8,99.6h0M103.15,99.47h0M105.5,98.09h0M107.2,96.7h0" stroke="#155087" stroke-width="1.56" stroke-linecap="round"/>
<polyline points="139.5,100.2 139.8,98.5 143.5,90.8 146.6,84.3 148.2,80 149.7,75.8 151.5,69.4" fill="none" stroke="#c8102e" stroke-width="0.62" stroke-linejoin="round"/>
<path d="M139.5,100.2h0M141.6,94.75h0M143.7,90.38h0M145.8,85.98h0M147.9,80.81h0M150,74.73h0M151.5,69.4h0" stroke="#c8102e" stroke-width="1.56" stroke-linecap="round"/>
<polyline points="139.5,100.2 140.5,98.8 143,93.5 145.5,86 147.5,78.3" fill="none" stroke="#c8102e" stroke-width="0.62" stroke-linejoin="round"/>
<path d="M139.5,100.2h0M141.6,96.47h0M143.7,91.4h0M145.8,84.85h0M147.5,78.3h0" stroke="#c8102e" stroke-width="1.56" stroke-linecap="round"/>
<polyline points="139.5,100.2 141.1,98.5 145.4,90.5 148.8,83.4 150.6,80.5 152.5,77 155.2,73.4" fill="none" stroke="#c8102e" stroke-width="0.62" stroke-linejoin="round"/>
<path d="M139.5,100.2h0M141.6,97.57h0M143.7,93.66h0M145.8,89.66h0M147.9,85.28h0M150,81.47h0M152.1,77.74h0M154.2,74.73h0M155.2,73.4h0" stroke="#c8102e" stroke-width="1.56" stroke-linecap="round"/>
<polyline points="139.5,100.2 143.5,97.5 148,93 151.5,88.5 153.5,84.2 154.6,78 155.5,73 156.2,67.5 157.7,59.4 159.4,48.9 160.5,41.3 161.5,31 162.3,21.3" fill="none" stroke="#c8102e" stroke-width="0.62" stroke-linejoin="round"/>
<path d="M139.5,100.2h0M141.6,98.78h0M143.7,97.3h0M145.8,95.2h0M147.9,93.1h0M150,90.43h0M152.1,87.21h0M154.2,80.25h0M156.3,66.96h0M158.4,55.08h0M160.5,41.3h0M162.3,21.3h0" stroke="#c8102e" stroke-width="1.56" stroke-linecap="round"/>
<polyline points="139.5,100.2 141,99 144.2,97.8 149.1,91.7 152.5,89.8" fill="none" stroke="#c8102e" stroke-width="0.62" stroke-linejoin="round"/>
<path d="M139.5,100.2h0M141.6,98.78h0M143.7,97.99h0M145.8,95.81h0M147.9,93.19h0M150,91.2h0M152.1,90.02h0M152.5,89.8h0" stroke="#c8102e" stroke-width="1.56" stroke-linecap="round"/>
<polyline points="139.5,100.2 144.2,96.6 148.2,92.9 149.7,92 150.9,92.6 152.9,94.9 159.6,96.3 165.4,97.8 172.1,99.2 176.9,99.2 183.7,96.3 191.3,92 195.2,89.6 198.1,88.3 201.2,82.7 205.5,79.1 206.5,72 207.3,66.1" fill="none" stroke="#155087" stroke-width="0.62" stroke-linejoin="round"/>
<path d="M139.5,100.2h0M141.6,98.59h0M143.7,96.98h0M145.8,95.12h0M147.9,93.18h0M150,92.15h0M152.1,93.98h0M154.2,95.17h0M156.3,95.61h0M158.4,96.05h0M160.5,96.53h0M162.6,97.08h0M164.7,97.62h0M166.8,98.09h0M168.9,98.53h0M171,98.97h0M173.1,99.2h0M175.2,99.2h0M177.3,99.03h0M179.4,98.13h0M181.5,97.24h0M183.6,96.34h0M185.7,95.17h0M187.8,93.98h0M189.9,92.79h0M192,91.57h0M194.1,90.28h0M196.2,89.15h0M198.3,87.94h0M200.4,84.15h0M202.5,81.61h0M204.6,79.85h0M206.7,70.53h0M207.3,66.1h0" stroke="#155087" stroke-width="1.56" stroke-linecap="round"/>
<polyline points="139.5,100.2 143,97.5 146,95.5 148.2,94.8 150.3,97.5 152.2,99.1 159.6,100.7 169.2,100.2 176,100.2 183.7,99.7 190.4,97.8 193.3,92 195.2,94.4 200,95.4" fill="none" stroke="#155087" stroke-width="0.62" stroke-linejoin="round"/>
<path d="M139.5,100.2h0M141.6,98.58h0M143.7,97.03h0M145.8,95.63h0M147.9,94.9h0M150,97.11h0M152.1,99.02h0M154.2,99.53h0M156.3,99.99h0M158.4,100.44h0M160.5,100.65h0M162.6,100.54h0M164.7,100.43h0M166.8,100.33h0M168.9,100.22h0M171,100.2h0M173.1,100.2h0M175.2,100.2h0M177.3,100.12h0M179.4,99.98h0M181.5,99.84h0M183.6,99.71h0M185.7,99.13h0M187.8,98.54h0M189.9,97.94h0M192,94.6h0M194.1,93.01h0M196.2,94.61h0M198.3,95.05h0M200,95.4h0" stroke="#155087" stroke-width="1.56" stroke-linecap="round"/>
<polyline points="139.5,100.2 145,100.9 152,101.2 160,101.4 168,101.2 176,101 182,100.8" fill="none" stroke="#155087" stroke-width="0.62" stroke-linejoin="round"/>
<path d="M139.5,100.2h0M141.6,100.47h0M143.7,100.73h0M145.8,100.93h0M147.9,101.02h0M150,101.11h0M152.1,101.2h0M154.2,101.26h0M156.3,101.31h0M158.4,101.36h0M160.5,101.39h0M162.6,101.34h0M164.7,101.28h0M166.8,101.23h0M168.9,101.18h0M171,101.12h0M173.1,101.07h0M175.2,101.02h0M177.3,100.96h0M179.4,100.89h0M181.5,100.82h0M182,100.8h0" stroke="#155087" stroke-width="1.56" stroke-linecap="round"/>
<line x1="161.2" y1="96.5" x2="162.4" y2="93.6" stroke="#155087" stroke-width="0.7"/>
<polyline points="237.1,94.2 243.8,88.4 249.4,81.7 254.4,74.4 256.6,69.4 260,62.1 262.2,56 264.5,50 266.7,43.8 268.8,33.5 270.8,22.9" fill="none" stroke="#c8102e" stroke-width="0.62" stroke-linejoin="round"/>
<path d="M237.1,94.2h0M241,90.82h0M244.9,87.08h0M248.8,82.42h0M252.7,76.88h0M256.6,69.4h0M260.5,60.71h0M264.4,50.26h0M268.3,35.95h0M270.8,22.9h0" stroke="#c8102e" stroke-width="1.56" stroke-linecap="round"/>
<polyline points="237.1,94.2 243.9,88.7 249.6,81.9 254.6,74.6 256.9,69.6 260.3,62.3 262.5,56.2 264.8,50.2 266.9,45 268.5,40.3 271.2,34 273.8,28.3" fill="none" stroke="#c8102e" stroke-width="0.62" stroke-linejoin="round"/>
<path d="M237.1,94.2h0M241,91.05h0M244.9,87.51h0M248.8,82.85h0M252.7,77.37h0M256.6,70.25h0M260.5,61.75h0M264.4,51.24h0M268.3,40.89h0M272.2,31.81h0M273.8,28.3h0" stroke="#c8102e" stroke-width="1.56" stroke-linecap="round"/>
<polyline points="237.1,94.2 240.5,88.5 243.5,84.5 246.6,81.1" fill="none" stroke="#c8102e" stroke-width="0.62" stroke-linejoin="round"/>
<path d="M237.1,94.2h0M241,87.83h0M244.9,82.96h0M246.6,81.1h0" stroke="#c8102e" stroke-width="1.56" stroke-linecap="round"/>
<polyline points="237.1,94.2 240.3,91.2 243.2,88.2 246.6,81.1" fill="none" stroke="#c8102e" stroke-width="0.62" stroke-linejoin="round"/>
<path d="M237.1,94.2h0M241,90.48h0M244.9,84.65h0M246.6,81.1h0" stroke="#c8102e" stroke-width="1.56" stroke-linecap="round"/>
<polyline points="237.1,94.2 241,95 246.4,95.8 252,97 256.8,98.4 265.1,100.3 272,100.6 278,100.6 282.2,100.2 286.9,98.9 291.7,96.5 297.1,94.8 301,91.5 306,85.5" fill="none" stroke="#155087" stroke-width="0.62" stroke-linejoin="round"/>
<path d="M237.1,94.2h0M241,95h0M244.9,95.58h0M248.8,96.31h0M252.7,97.2h0M256.6,98.34h0M260.5,99.25h0M264.4,100.14h0M268.3,100.44h0M272.2,100.6h0M276.1,100.6h0M280,100.41h0M283.9,99.73h0M287.8,98.45h0M291.7,96.5h0M295.6,95.27h0M299.5,92.77h0M303.4,88.62h0M306,85.5h0" stroke="#155087" stroke-width="1.56" stroke-linecap="round"/>
<polyline points="237.1,94.2 242,95.5 248,96.5 254,97.8 260,99 266,100.2 272,100.8 278,101.2 282.2,101.6 287,101.6 292,101.6 297,101.6 302.5,101.6" fill="none" stroke="#155087" stroke-width="0.62" stroke-linejoin="round"/>
<path d="M237.1,94.2h0M241,95.23h0M244.9,95.98h0M248.8,96.67h0M252.7,97.52h0M256.6,98.32h0M260.5,99.1h0M264.4,99.88h0M268.3,100.43h0M272.2,100.81h0M276.1,101.07h0M280,101.39h0M283.9,101.6h0M287.8,101.6h0M291.7,101.6h0M295.6,101.6h0M299.5,101.6h0M302.5,101.6h0" stroke="#155087" stroke-width="1.56" stroke-linecap="round"/>
<polyline points="237.1,94.2 243,96 250,97.5 258,99 265,100 271,101 276,101.5" fill="none" stroke="#155087" stroke-width="0.62" stroke-linejoin="round"/>
<path d="M237.1,94.2h0M241,95.39h0M244.9,96.41h0M248.8,97.24h0M252.7,98.01h0M256.6,98.74h0M260.5,99.36h0M264.4,99.91h0M268.3,100.55h0M272.2,101.12h0M276,101.5h0" stroke="#155087" stroke-width="1.56" stroke-linecap="round"/>
<polyline points="338.2,95.1 341.8,88.5 344.8,81.9 347,79.7 349.2,77.5 351.3,70.2 353.5,60 354.6,53 355.6,48.3 359,36 362.4,24.1" fill="none" stroke="#c8102e" stroke-width="0.62" stroke-linejoin="round"/>
<path d="M338.2,95.1h0M340.2,91.43h0M342.2,87.62h0M344.2,83.22h0M346.2,80.5h0M348.2,78.5h0M350.2,74.02h0M352.2,66.03h0M354.2,55.55h0M356.2,46.13h0M358.2,38.89h0M360.2,31.8h0M362.2,24.8h0M362.4,24.1h0" stroke="#c8102e" stroke-width="1.56" stroke-linecap="round"/>
<polyline points="338.2,95.1 342.6,88.5 345.5,83.4 348.4,80.5 350.6,76.1 352.8,68.8 354.3,60 355.6,48.3" fill="none" stroke="#c8102e" stroke-width="0.62" stroke-linejoin="round"/>
<path d="M338.2,95.1h0M340.2,92.1h0M342.2,89.1h0M344.2,85.69h0M346.2,82.7h0M348.2,80.7h0M350.2,76.9h0M352.2,70.79h0M354.2,60.59h0M355.6,48.3h0" stroke="#c8102e" stroke-width="1.56" stroke-linecap="round"/>
<polyline points="338.2,95.1 347.7,96.5 355,99.2 360,100.7 365.2,101.7 372.5,101.4 376.9,98.7 379.8,94.3 382,89.2 383.5,76.1 385.3,70.5 387.2,76.8 389.3,84.1 391.5,85.6 394.5,84.8 397.4,87 400.3,93.6 403.2,98 406.2,100.2" fill="none" stroke="#155087" stroke-width="0.62" stroke-linejoin="round"/>
<path d="M338.2,95.1h0M340.2,95.39h0M342.2,95.69h0M344.2,95.98h0M346.2,96.28h0M348.2,96.68h0M350.2,97.42h0M352.2,98.16h0M354.2,98.9h0M356.2,99.56h0M358.2,100.16h0M360.2,100.74h0M362.2,101.12h0M364.2,101.51h0M366.2,101.66h0M368.2,101.58h0M370.2,101.49h0M372.2,101.41h0M374.2,100.36h0M376.2,99.13h0M378.2,96.73h0M380.2,93.37h0M382.2,87.45h0M384.2,73.92h0M386.2,73.48h0M388.2,80.28h0M390.2,84.71h0M392.2,85.41h0M394.2,84.88h0M396.2,86.09h0M398.2,88.82h0M400.2,93.37h0M402.2,96.48h0M404.2,98.73h0M406.2,100.2h0" stroke="#155087" stroke-width="1.56" stroke-linecap="round"/>
<polyline points="338.2,95.1 346,96.8 354,99.5 362,101.2 370,101.8 375.5,100.9 380,100.2 385.7,98.7 389.3,95.8 391.5,98 395.6,99.5" fill="none" stroke="#155087" stroke-width="0.62" stroke-linejoin="round"/>
<path d="M338.2,95.1h0M340.2,95.54h0M342.2,95.97h0M344.2,96.41h0M346.2,96.87h0M348.2,97.54h0M350.2,98.22h0M352.2,98.89h0M354.2,99.54h0M356.2,99.97h0M358.2,100.39h0M360.2,100.82h0M362.2,101.22h0M364.2,101.36h0M366.2,101.52h0M368.2,101.66h0M370.2,101.77h0M372.2,101.44h0M374.2,101.11h0M376.2,100.79h0M378.2,100.48h0M380.2,100.15h0M382.2,99.62h0M384.2,99.09h0M386.2,98.3h0M388.2,96.69h0M390.2,96.7h0M392.2,98.26h0M394.2,98.99h0M395.6,99.5h0" stroke="#155087" stroke-width="1.56" stroke-linecap="round"/>
<path d="M379.4,87.8 L383.2,87.8 L381.3,91 Z" fill="#155087"/>
<path d="M387,90.8 L390.8,90.8 L388.9,94 Z" fill="#155087"/>
<polyline points="433.2,97.6 436.5,92.5 439.4,88 443.7,78.8 446.8,69.5 449.2,56 450.4,49.6 452.1,39.6 453.2,34.5 454.3,24.7" fill="none" stroke="#c8102e" stroke-width="0.62" stroke-linejoin="round"/>
<path d="M433.2,97.6h0M435.2,94.51h0M437.2,91.41h0M439.2,88.31h0M441.2,84.15h0M443.2,79.87h0M445.2,74.3h0M447.2,67.25h0M449.2,56h0M451.2,44.89h0M453.2,34.5h0M454.3,24.7h0" stroke="#c8102e" stroke-width="1.56" stroke-linecap="round"/>
<polyline points="433.2,97.6 436.8,92.8 439.6,88.3 443.9,79 447,69.7 449.3,56.5 450.6,49.5 451.8,42 452.7,37.9 455.5,34.3" fill="none" stroke="#c8102e" stroke-width="0.62" stroke-linejoin="round"/>
<path d="M433.2,97.6h0M435.2,94.93h0M437.2,92.16h0M439.2,88.94h0M441.2,84.84h0M443.2,80.51h0M445.2,75.1h0M447.2,68.55h0M449.2,57.07h0M451.2,45.75h0M453.2,37.26h0M455.2,34.69h0M455.5,34.3h0" stroke="#c8102e" stroke-width="1.56" stroke-linecap="round"/>
<polyline points="433.2,97.6 435.1,96.6 438.5,91.5 441.8,86.8 446.8,81.8 450.5,76.3 454.8,75.7 459.1,73.8 460.9,63.4 462.2,54.6 463.8,50.2 467.5,46.8" fill="none" stroke="#c8102e" stroke-width="0.62" stroke-linejoin="round"/>
<path d="M433.2,97.6h0M435.2,96.45h0M437.2,93.45h0M439.2,90.5h0M441.2,87.65h0M443.2,85.4h0M445.2,83.4h0M447.2,81.21h0M449.2,78.23h0M451.2,76.2h0M453.2,75.92h0M455.2,75.52h0M457.2,74.64h0M459.2,73.22h0M461.2,61.37h0M463.2,51.85h0M465.2,48.91h0M467.2,47.08h0M467.5,46.8h0" stroke="#c8102e" stroke-width="1.56" stroke-linecap="round"/>
<polyline points="433.2,97.6 435.7,96.6 439.5,91 443.1,85.5 449.8,78.8 455.4,76.9 459.1,74.5 461.5,65.8 464.3,61.2" fill="none" stroke="#c8102e" stroke-width="0.62" stroke-linejoin="round"/>
<path d="M433.2,97.6h0M435.2,96.8h0M437.2,94.39h0M439.2,91.44h0M441.2,88.4h0M443.2,85.4h0M445.2,83.4h0M447.2,81.4h0M449.2,79.4h0M451.2,78.33h0M453.2,77.65h0M455.2,76.97h0M457.2,75.73h0M459.2,74.14h0M461.2,66.89h0M463.2,63.01h0M464.3,61.2h0" stroke="#c8102e" stroke-width="1.56" stroke-linecap="round"/>
<polyline points="433.2,97.6 437,97.2 443,96.9 449,96.9 455,97 459.2,96.9 462.5,89.4 464.6,82.9 466.8,76.5 468.9,72.2 472.2,68 474.5,63 476.9,59.7" fill="none" stroke="#2bb53f" stroke-width="0.62" stroke-linejoin="round"/>
<path d="M433.2,97.6h0M435.2,97.39h0M437.2,97.19h0M439.2,97.09h0M441.2,96.99h0M443.2,96.9h0M445.2,96.9h0M447.2,96.9h0M449.2,96.9h0M451.2,96.94h0M453.2,96.97h0M455.2,97h0M457.2,96.95h0M459.2,96.9h0M461.2,92.35h0M463.2,87.23h0M465.2,81.15h0M467.2,75.68h0M469.2,71.82h0M471.2,69.27h0M473.2,65.83h0M475.2,62.04h0M476.9,59.7h0" stroke="#2bb53f" stroke-width="1.56" stroke-linecap="round"/>
<polyline points="433.2,97.6 438,97 445,97 452,97.2 458,97.5 461,93 463.5,89.4 468.9,84.5 473.2,81.3 477.5,80.8 481.8,79.7 486.2,78.6 488.3,76.5 490.5,72.2 493,69.5 495.9,66.4 498,64 500.4,61.9 502.5,60.5 504.2,58.6" fill="none" stroke="#2bb53f" stroke-width="0.62" stroke-linejoin="round"/>
<path d="M433.2,97.6h0M435.2,97.35h0M437.2,97.1h0M439.2,97h0M441.2,97h0M443.2,97h0M445.2,97.01h0M447.2,97.06h0M449.2,97.12h0M451.2,97.18h0M453.2,97.26h0M455.2,97.36h0M457.2,97.46h0M459.2,95.7h0M461.2,92.71h0M463.2,89.83h0M465.2,87.86h0M467.2,86.04h0M469.2,84.28h0M471.2,82.79h0M473.2,81.3h0M475.2,81.07h0M477.2,80.83h0M479.2,80.37h0M481.2,79.85h0M483.2,79.35h0M485.2,78.85h0M487.2,77.6h0M489.2,74.74h0M491.2,71.44h0M493.2,69.29h0M495.2,67.15h0M497.2,64.91h0M499.2,62.95h0M501.2,61.37h0M503.2,59.72h0M504.2,58.6h0" stroke="#2bb53f" stroke-width="1.56" stroke-linecap="round"/>
<polyline points="433.2,97.6 440,97.3 448,97.4 456,97.5 460,95 464.6,90.5 472.2,87.2 477.5,86.2 484,83.5 488.3,80.8 492.6,79.7 496.9,80.2 500.4,78.7" fill="none" stroke="#2bb53f" stroke-width="0.62" stroke-linejoin="round"/>
<path d="M433.2,97.6h0M435.2,97.51h0M437.2,97.42h0M439.2,97.34h0M441.2,97.31h0M443.2,97.34h0M445.2,97.37h0M447.2,97.39h0M449.2,97.42h0M451.2,97.44h0M453.2,97.47h0M455.2,97.49h0M457.2,96.75h0M459.2,95.5h0M461.2,93.83h0M463.2,91.87h0M465.2,90.24h0M467.2,89.37h0M469.2,88.5h0M471.2,87.63h0M473.2,87.01h0M475.2,86.63h0M477.2,86.26h0M479.2,85.49h0M481.2,84.66h0M483.2,83.83h0M485.2,82.75h0M487.2,81.49h0M489.2,80.57h0M491.2,80.06h0M493.2,79.77h0M495.2,80h0M497.2,80.07h0M499.2,79.21h0M500.4,78.7h0" stroke="#2bb53f" stroke-width="1.56" stroke-linecap="round"/>
<polyline points="433.2,97.6 441,98 449,99.5 455,100.8 458.5,101.9 460.5,98 462.5,94.8 468.9,90.5 477.5,88.8 482.9,87.2 488.3,87.8 493.7,88.8 499.1,89.4 503.4,91" fill="none" stroke="#2bb53f" stroke-width="0.62" stroke-linejoin="round"/>
<path d="M433.2,97.6h0M435.2,97.7h0M437.2,97.81h0M439.2,97.91h0M441.2,98.04h0M443.2,98.41h0M445.2,98.79h0M447.2,99.16h0M449.2,99.54h0M451.2,99.98h0M453.2,100.41h0M455.2,100.86h0M457.2,101.49h0M459.2,100.54h0M461.2,96.88h0M463.2,94.33h0M465.2,92.99h0M467.2,91.64h0M469.2,90.44h0M471.2,90.05h0M473.2,89.65h0M475.2,89.25h0M477.2,88.86h0M479.2,88.3h0M481.2,87.7h0M483.2,87.23h0M485.2,87.46h0M487.2,87.68h0M489.2,87.97h0M491.2,88.34h0M493.2,88.71h0M495.2,88.97h0M497.2,89.19h0M499.2,89.44h0M501.2,90.18h0M503.2,90.93h0M503.4,91h0" stroke="#2bb53f" stroke-width="1.56" stroke-linecap="round"/>
<polyline points="433.2,97.6 442,97.6 450,97.8 456,98.5 460.3,99.1 466.8,94.8 472.2,91.5 477.5,89.9 482.9,88.3 488.3,88.3 493.7,90.5 503.4,91.5" fill="none" stroke="#2bb53f" stroke-width="0.62" stroke-linejoin="round"/>
<path d="M433.2,97.6h0M435.2,97.6h0M437.2,97.6h0M439.2,97.6h0M441.2,97.6h0M443.2,97.63h0M445.2,97.68h0M447.2,97.73h0M449.2,97.78h0M451.2,97.94h0M453.2,98.17h0M455.2,98.41h0M457.2,98.67h0M459.2,98.95h0M461.2,98.5h0M463.2,97.18h0M465.2,95.86h0M467.2,94.56h0M469.2,93.33h0M471.2,92.11h0M473.2,91.2h0M475.2,90.59h0M477.2,89.99h0M479.2,89.4h0M481.2,88.8h0M483.2,88.3h0M485.2,88.3h0M487.2,88.3h0M489.2,88.67h0M491.2,89.48h0M493.2,90.3h0M495.2,90.65h0M497.2,90.86h0M499.2,91.07h0M501.2,91.27h0M503.2,91.48h0M503.4,91.5h0" stroke="#2bb53f" stroke-width="1.56" stroke-linecap="round"/>
<polyline points="433.2,97.6 440,98.6 448,99.2 456,99.1 462.5,94.8 468.9,91.5 475.4,89.9 481.8,88.8 488.3,89.4 492.6,87.8 495.8,81.8 499.1,76.5 501.2,75.4 503.9,75.4" fill="none" stroke="#155087" stroke-width="0.62" stroke-linejoin="round"/>
<path d="M433.2,97.6h0M435.2,97.89h0M437.2,98.19h0M439.2,98.48h0M441.2,98.69h0M443.2,98.84h0M445.2,98.99h0M447.2,99.14h0M449.2,99.19h0M451.2,99.16h0M453.2,99.13h0M455.2,99.11h0M457.2,98.31h0M459.2,96.98h0M461.2,95.66h0M463.2,94.44h0M465.2,93.41h0M467.2,92.38h0M469.2,91.43h0M471.2,90.93h0M473.2,90.44h0M475.2,89.95h0M477.2,89.59h0M479.2,89.25h0M481.2,88.9h0M483.2,88.93h0M485.2,89.11h0M487.2,89.3h0M489.2,89.07h0M491.2,88.32h0M493.2,86.68h0M495.2,82.93h0M497.2,79.55h0M499.2,76.45h0M501.2,75.4h0M503.2,75.4h0M503.9,75.4h0" stroke="#155087" stroke-width="1.56" stroke-linecap="round"/>
<polyline points="433.2,97.6 441,99.2 449,100 456,100.2 464.6,94.8 472.2,92.1 479.7,91 486.2,91.5 493.7,94.2 499.1,91 502.3,88.8 503.9,81.3" fill="none" stroke="#155087" stroke-width="0.62" stroke-linejoin="round"/>
<path d="M433.2,97.6h0M435.2,98.01h0M437.2,98.42h0M439.2,98.83h0M441.2,99.22h0M443.2,99.42h0M445.2,99.62h0M447.2,99.82h0M449.2,100.01h0M451.2,100.06h0M453.2,100.12h0M455.2,100.18h0M457.2,99.45h0M459.2,98.19h0M461.2,96.93h0M463.2,95.68h0M465.2,94.59h0M467.2,93.88h0M469.2,93.17h0M471.2,92.46h0M473.2,91.95h0M475.2,91.66h0M477.2,91.37h0M479.2,91.07h0M481.2,91.12h0M483.2,91.27h0M485.2,91.42h0M487.2,91.86h0M489.2,92.58h0M491.2,93.3h0M493.2,94.02h0M495.2,93.31h0M497.2,92.13h0M499.2,90.93h0M501.2,89.56h0M503.2,84.58h0M503.9,81.3h0" stroke="#155087" stroke-width="1.56" stroke-linecap="round"/>
<polyline points="433.2,97.6 442,99.8 450,100.6 456,100.7 466.8,95.3 477.5,92.1 486.2,92.6 493.7,93.2 500.2,90.5 503.9,89.9" fill="none" stroke="#155087" stroke-width="0.62" stroke-linejoin="round"/>
<path d="M433.2,97.6h0M435.2,98.1h0M437.2,98.6h0M439.2,99.1h0M441.2,99.6h0M443.2,99.92h0M445.2,100.12h0M447.2,100.32h0M449.2,100.52h0M451.2,100.62h0M453.2,100.65h0M455.2,100.69h0M457.2,100.1h0M459.2,99.1h0M461.2,98.1h0M463.2,97.1h0M465.2,96.1h0M467.2,95.18h0M469.2,94.58h0M471.2,93.98h0M473.2,93.39h0M475.2,92.79h0M477.2,92.19h0M479.2,92.2h0M481.2,92.31h0M483.2,92.43h0M485.2,92.54h0M487.2,92.68h0M489.2,92.84h0M491.2,93h0M493.2,93.16h0M495.2,92.58h0M497.2,91.75h0M499.2,90.92h0M501.2,90.34h0M503.2,90.01h0M503.9,89.9h0" stroke="#155087" stroke-width="1.56" stroke-linecap="round"/>
<polyline points="433.2,97.6 443,100.8 450,101.6 456,101.4 460,100 466.8,98 477.5,98.5 488.3,97.8 496.9,98.2 500.2,98.9 503.9,97.5" fill="none" stroke="#155087" stroke-width="0.62" stroke-linejoin="round"/>
<path d="M433.2,97.6h0M435.2,98.25h0M437.2,98.91h0M439.2,99.56h0M441.2,100.21h0M443.2,100.82h0M445.2,101.05h0M447.2,101.28h0M449.2,101.51h0M451.2,101.56h0M453.2,101.49h0M455.2,101.43h0M457.2,100.98h0M459.2,100.28h0M461.2,99.65h0M463.2,99.06h0M465.2,98.47h0M467.2,98.02h0M469.2,98.11h0M471.2,98.21h0M473.2,98.3h0M475.2,98.39h0M477.2,98.49h0M479.2,98.39h0M481.2,98.26h0M483.2,98.13h0M485.2,98h0M487.2,97.87h0M489.2,97.84h0M491.2,97.93h0M493.2,98.03h0M495.2,98.12h0M497.2,98.26h0M499.2,98.69h0M501.2,98.52h0M503.2,97.76h0M503.9,97.5h0" stroke="#155087" stroke-width="1.56" stroke-linecap="round"/>
<circle cx="74.5" cy="57.8" r="1.9" fill="#c8102e"/>
<text x="78" y="60.35" font-size="7.2" text-anchor="start" font-weight="normal" fill="#111" textLength="22.8" lengthAdjust="spacingAndGlyphs" stroke="#111" stroke-width="0.12">Control</text>
<circle cx="74.5" cy="66.3" r="1.9" fill="#2bb53f"/>
<text x="78" y="68.85" font-size="7.2" text-anchor="start" font-weight="normal" fill="#111" textLength="37.6" lengthAdjust="spacingAndGlyphs" stroke="#111" stroke-width="0.12">Navtemadlin</text>
<circle cx="74.5" cy="74.8" r="1.9" fill="#155087"/>
<text x="78" y="77.35" font-size="7.2" text-anchor="start" font-weight="normal" fill="#111" textLength="35.7" lengthAdjust="spacingAndGlyphs" stroke="#111" stroke-width="0.12">Navt +Tram</text>
<circle cx="74.5" cy="83.3" r="1.9" fill="#5a1964"/>
<text x="78" y="85.85" font-size="7.2" text-anchor="start" font-weight="normal" fill="#111" textLength="32.1" lengthAdjust="spacingAndGlyphs" stroke="#111" stroke-width="0.12">Trametinib</text>
<circle cx="168.2" cy="50.8" r="1.9" fill="#c8102e"/>
<text x="172.9" y="53.35" font-size="7.2" text-anchor="start" font-weight="normal" fill="#111" textLength="22.8" lengthAdjust="spacingAndGlyphs" stroke="#111" stroke-width="0.12">Control</text>
<circle cx="168.2" cy="60.9" r="1.9" fill="#155087"/>
<text x="172.9" y="63.45" font-size="7.2" text-anchor="start" font-weight="normal" fill="#111" textLength="37.6" lengthAdjust="spacingAndGlyphs" stroke="#111" stroke-width="0.12">Navtemadlin</text>
<circle cx="270.3" cy="55" r="1.9" fill="#c8102e"/>
<text x="274.3" y="57.55" font-size="7.2" text-anchor="start" font-weight="normal" fill="#111" textLength="22.7" lengthAdjust="spacingAndGlyphs" stroke="#111" stroke-width="0.12">Control</text>
<circle cx="270.3" cy="64.6" r="1.9" fill="#155087"/>
<text x="274.3" y="67.15" font-size="7.2" text-anchor="start" font-weight="normal" fill="#111" textLength="37.2" lengthAdjust="spacingAndGlyphs" stroke="#111" stroke-width="0.12">Navtemadlin</text>
<circle cx="369.2" cy="51.8" r="1.9" fill="#c8102e"/>
<text x="373.4" y="54.35" font-size="7.2" text-anchor="start" font-weight="normal" fill="#111" textLength="22.6" lengthAdjust="spacingAndGlyphs" stroke="#111" stroke-width="0.12">Control</text>
<circle cx="369.2" cy="61.9" r="1.9" fill="#155087"/>
<text x="373.4" y="64.45" font-size="7.2" text-anchor="start" font-weight="normal" fill="#111" textLength="37.4" lengthAdjust="spacingAndGlyphs" stroke="#111" stroke-width="0.12">Navtemadlin</text>
<circle cx="472.5" cy="25.6" r="1.9" fill="#c8102e"/>
<text x="476.9" y="28.15" font-size="7.2" text-anchor="start" font-weight="normal" fill="#111" textLength="23.1" lengthAdjust="spacingAndGlyphs" stroke="#111" stroke-width="0.12">Control</text>
<circle cx="472.5" cy="34.45" r="1.9" fill="#2bb53f"/>
<text x="476.9" y="37" font-size="7.2" text-anchor="start" font-weight="normal" fill="#111" textLength="32" lengthAdjust="spacingAndGlyphs" stroke="#111" stroke-width="0.12">Idasanutlin</text>
<circle cx="472.5" cy="43.3" r="1.9" fill="#155087"/>
<text x="476.9" y="45.85" font-size="7.2" text-anchor="start" font-weight="normal" fill="#111" textLength="35.8" lengthAdjust="spacingAndGlyphs" stroke="#111" stroke-width="0.12">Navtemadlin</text>
<line x1="36.2" y1="152.7" x2="36.2" y2="251.5" stroke="#111" stroke-width="1.35"/>
<line x1="33.6" y1="157.3" x2="36.2" y2="157.3" stroke="#111" stroke-width="1"/>
<text x="30.3" y="160.05" font-size="7.9" text-anchor="end" font-weight="normal" fill="#111" textLength="8.85" lengthAdjust="spacingAndGlyphs" stroke="#111" stroke-width="0.25">600</text>
<line x1="33.6" y1="170.15" x2="36.2" y2="170.15" stroke="#111" stroke-width="1"/>
<text x="30.3" y="172.9" font-size="7.9" text-anchor="end" font-weight="normal" fill="#111" textLength="8.85" lengthAdjust="spacingAndGlyphs" stroke="#111" stroke-width="0.25">500</text>
<line x1="33.6" y1="183" x2="36.2" y2="183" stroke="#111" stroke-width="1"/>
<text x="30.3" y="185.75" font-size="7.9" text-anchor="end" font-weight="normal" fill="#111" textLength="8.85" lengthAdjust="spacingAndGlyphs" stroke="#111" stroke-width="0.25">400</text>
<line x1="33.6" y1="195.85" x2="36.2" y2="195.85" stroke="#111" stroke-width="1"/>
<text x="30.3" y="198.6" font-size="7.9" text-anchor="end" font-weight="normal" fill="#111" textLength="8.85" lengthAdjust="spacingAndGlyphs" stroke="#111" stroke-width="0.25">300</text>
<line x1="33.6" y1="208.7" x2="36.2" y2="208.7" stroke="#111" stroke-width="1"/>
<text x="30.3" y="211.45" font-size="7.9" text-anchor="end" font-weight="normal" fill="#111" textLength="8.85" lengthAdjust="spacingAndGlyphs" stroke="#111" stroke-width="0.25">200</text>
<line x1="33.6" y1="221.55" x2="36.2" y2="221.55" stroke="#111" stroke-width="1"/>
<text x="30.3" y="224.3" font-size="7.9" text-anchor="end" font-weight="normal" fill="#111" textLength="8.85" lengthAdjust="spacingAndGlyphs" stroke="#111" stroke-width="0.25">100</text>
<line x1="33.6" y1="234.4" x2="36.2" y2="234.4" stroke="#111" stroke-width="1"/>
<text x="30.3" y="237.15" font-size="7.9" text-anchor="end" font-weight="normal" fill="#111" textLength="2.95" lengthAdjust="spacingAndGlyphs" stroke="#111" stroke-width="0.25">0</text>
<line x1="33.6" y1="247.25" x2="36.2" y2="247.25" stroke="#111" stroke-width="1"/>
<text x="30.3" y="250" font-size="7.9" text-anchor="end" font-weight="normal" fill="#111" textLength="13.05" lengthAdjust="spacingAndGlyphs" stroke="#111" stroke-width="0.25">−100</text>
<line x1="34.4" y1="163.73" x2="36.2" y2="163.73" stroke="#111" stroke-width="1"/>
<line x1="34.4" y1="176.57" x2="36.2" y2="176.57" stroke="#111" stroke-width="1"/>
<line x1="34.4" y1="189.43" x2="36.2" y2="189.43" stroke="#111" stroke-width="1"/>
<line x1="34.4" y1="202.28" x2="36.2" y2="202.28" stroke="#111" stroke-width="1"/>
<line x1="34.4" y1="215.12" x2="36.2" y2="215.12" stroke="#111" stroke-width="1"/>
<line x1="34.4" y1="227.97" x2="36.2" y2="227.97" stroke="#111" stroke-width="1"/>
<line x1="34.4" y1="240.83" x2="36.2" y2="240.83" stroke="#111" stroke-width="1"/>
<line x1="36.2" y1="234.4" x2="110.4" y2="234.4" stroke="#111" stroke-width="1.2"/>
<rect x="40" y="166.3" width="5.1" height="68.1" fill="#c8102e"/>
<rect x="47.8" y="200.3" width="5.1" height="34.1" fill="#c8102e"/>
<rect x="55.6" y="202" width="5.1" height="32.4" fill="#5a1964"/>
<rect x="63.4" y="218.1" width="5.1" height="16.3" fill="#5a1964"/>
<rect x="71.2" y="234.4" width="5.1" height="12.1" fill="#2bb53f"/>
<rect x="79" y="234.4" width="5.1" height="12.1" fill="#155087"/>
<rect x="86.9" y="234.4" width="5.1" height="13.1" fill="#2bb53f"/>
<rect x="94.5" y="234.4" width="5.1" height="13.1" fill="#2bb53f"/>
<rect x="102.2" y="234.4" width="5.1" height="13.3" fill="#155087"/>
<rect x="52" y="163.8" width="4" height="4" fill="#c8102e"/>
<text x="59" y="168.35" font-size="7.2" text-anchor="start" font-weight="normal" fill="#111" textLength="22.8" lengthAdjust="spacingAndGlyphs" stroke="#111" stroke-width="0.12">Control</text>
<rect x="52" y="172.55" width="4" height="4" fill="#2bb53f"/>
<text x="59" y="177.1" font-size="7.2" text-anchor="start" font-weight="normal" fill="#111" textLength="37.6" lengthAdjust="spacingAndGlyphs" stroke="#111" stroke-width="0.12">Navtemadlin</text>
<rect x="52" y="181.3" width="4" height="4" fill="#155087"/>
<text x="59" y="185.85" font-size="7.2" text-anchor="start" font-weight="normal" fill="#111" textLength="35.7" lengthAdjust="spacingAndGlyphs" stroke="#111" stroke-width="0.12">Navt +Tram</text>
<rect x="52" y="190.05" width="4" height="4" fill="#5a1964"/>
<text x="59" y="194.6" font-size="7.2" text-anchor="start" font-weight="normal" fill="#111" textLength="32.1" lengthAdjust="spacingAndGlyphs" stroke="#111" stroke-width="0.12">Trametinib</text>
<line x1="135.1" y1="145.1" x2="135.1" y2="234.6" stroke="#111" stroke-width="1.35"/>
<line x1="132.5" y1="147.66" x2="135.1" y2="147.66" stroke="#111" stroke-width="1"/>
<line x1="132.5" y1="160.08" x2="135.1" y2="160.08" stroke="#111" stroke-width="1"/>
<text x="130.5" y="162.83" font-size="7.9" text-anchor="end" font-weight="normal" fill="#111" textLength="8.85" lengthAdjust="spacingAndGlyphs" stroke="#111" stroke-width="0.25">600</text>
<line x1="132.5" y1="172.5" x2="135.1" y2="172.5" stroke="#111" stroke-width="1"/>
<text x="130.5" y="175.25" font-size="7.9" text-anchor="end" font-weight="normal" fill="#111" textLength="8.85" lengthAdjust="spacingAndGlyphs" stroke="#111" stroke-width="0.25">500</text>
<line x1="132.5" y1="184.92" x2="135.1" y2="184.92" stroke="#111" stroke-width="1"/>
<text x="130.5" y="187.67" font-size="7.9" text-anchor="end" font-weight="normal" fill="#111" textLength="8.85" lengthAdjust="spacingAndGlyphs" stroke="#111" stroke-width="0.25">400</text>
<line x1="132.5" y1="197.34" x2="135.1" y2="197.34" stroke="#111" stroke-width="1"/>
<text x="130.5" y="200.09" font-size="7.9" text-anchor="end" font-weight="normal" fill="#111" textLength="8.85" lengthAdjust="spacingAndGlyphs" stroke="#111" stroke-width="0.25">300</text>
<line x1="132.5" y1="209.76" x2="135.1" y2="209.76" stroke="#111" stroke-width="1"/>
<text x="130.5" y="212.51" font-size="7.9" text-anchor="end" font-weight="normal" fill="#111" textLength="8.85" lengthAdjust="spacingAndGlyphs" stroke="#111" stroke-width="0.25">200</text>
<line x1="132.5" y1="222.18" x2="135.1" y2="222.18" stroke="#111" stroke-width="1"/>
<text x="130.5" y="224.93" font-size="7.9" text-anchor="end" font-weight="normal" fill="#111" textLength="8.85" lengthAdjust="spacingAndGlyphs" stroke="#111" stroke-width="0.25">100</text>
<line x1="132.5" y1="234.6" x2="135.1" y2="234.6" stroke="#111" stroke-width="1"/>
<text x="130.5" y="237.35" font-size="7.9" text-anchor="end" font-weight="normal" fill="#111" textLength="2.95" lengthAdjust="spacingAndGlyphs" stroke="#111" stroke-width="0.25">0</text>
<line x1="135.1" y1="234.6" x2="211" y2="234.6" stroke="#111" stroke-width="1.2"/>
<rect x="139.6" y="149.4" width="5.1" height="85.2" fill="#c8102e"/>
<rect x="150.1" y="171.9" width="5.1" height="62.7" fill="#c8102e"/>
<rect x="160.7" y="196.2" width="5.1" height="38.4" fill="#c8102e"/>
<rect x="171.3" y="211.4" width="5.1" height="23.2" fill="#155087"/>
<rect x="181.8" y="227.8" width="5.1" height="6.8" fill="#155087"/>
<rect x="192.4" y="234.6" width="5.1" height="1.4" fill="#155087"/>
<rect x="202.9" y="234.6" width="5.1" height="5.8" fill="#155087"/>
<rect x="165.7" y="163.7" width="4" height="4" fill="#c8102e"/>
<text x="172.6" y="168.25" font-size="7.2" text-anchor="start" font-weight="normal" fill="#111" textLength="22.8" lengthAdjust="spacingAndGlyphs" stroke="#111" stroke-width="0.12">Control</text>
<rect x="165.7" y="172.6" width="4" height="4" fill="#155087"/>
<text x="172.6" y="177.15" font-size="7.2" text-anchor="start" font-weight="normal" fill="#111" textLength="37.6" lengthAdjust="spacingAndGlyphs" stroke="#111" stroke-width="0.12">Navtemadlin</text>
<line x1="233.9" y1="153.1" x2="233.9" y2="249.5" stroke="#111" stroke-width="1.35"/>
<line x1="231.3" y1="159" x2="233.9" y2="159" stroke="#111" stroke-width="1"/>
<text x="228.9" y="161.75" font-size="7.9" text-anchor="end" font-weight="normal" fill="#111" textLength="8.85" lengthAdjust="spacingAndGlyphs" stroke="#111" stroke-width="0.25">600</text>
<line x1="231.3" y1="171.6" x2="233.9" y2="171.6" stroke="#111" stroke-width="1"/>
<text x="228.9" y="174.35" font-size="7.9" text-anchor="end" font-weight="normal" fill="#111" textLength="8.85" lengthAdjust="spacingAndGlyphs" stroke="#111" stroke-width="0.25">500</text>
<line x1="231.3" y1="184.2" x2="233.9" y2="184.2" stroke="#111" stroke-width="1"/>
<text x="228.9" y="186.95" font-size="7.9" text-anchor="end" font-weight="normal" fill="#111" textLength="8.85" lengthAdjust="spacingAndGlyphs" stroke="#111" stroke-width="0.25">400</text>
<line x1="231.3" y1="196.8" x2="233.9" y2="196.8" stroke="#111" stroke-width="1"/>
<text x="228.9" y="199.55" font-size="7.9" text-anchor="end" font-weight="normal" fill="#111" textLength="8.85" lengthAdjust="spacingAndGlyphs" stroke="#111" stroke-width="0.25">300</text>
<line x1="231.3" y1="209.4" x2="233.9" y2="209.4" stroke="#111" stroke-width="1"/>
<text x="228.9" y="212.15" font-size="7.9" text-anchor="end" font-weight="normal" fill="#111" textLength="8.85" lengthAdjust="spacingAndGlyphs" stroke="#111" stroke-width="0.25">200</text>
<line x1="231.3" y1="222" x2="233.9" y2="222" stroke="#111" stroke-width="1"/>
<text x="228.9" y="224.75" font-size="7.9" text-anchor="end" font-weight="normal" fill="#111" textLength="8.85" lengthAdjust="spacingAndGlyphs" stroke="#111" stroke-width="0.25">100</text>
<line x1="231.3" y1="234.6" x2="233.9" y2="234.6" stroke="#111" stroke-width="1"/>
<text x="228.9" y="237.35" font-size="7.9" text-anchor="end" font-weight="normal" fill="#111" textLength="2.95" lengthAdjust="spacingAndGlyphs" stroke="#111" stroke-width="0.25">0</text>
<line x1="231.3" y1="247.2" x2="233.9" y2="247.2" stroke="#111" stroke-width="1"/>
<text x="228.9" y="249.95" font-size="7.9" text-anchor="end" font-weight="normal" fill="#111" textLength="13.05" lengthAdjust="spacingAndGlyphs" stroke="#111" stroke-width="0.25">−100</text>
<line x1="233.9" y1="234.6" x2="309.5" y2="234.6" stroke="#111" stroke-width="1.2"/>
<rect x="237.7" y="157.3" width="5.1" height="77.3" fill="#c8102e"/>
<rect x="248" y="159" width="5.1" height="75.6" fill="#c8102e"/>
<rect x="258.2" y="234.6" width="5.1" height="7.4" fill="#155087"/>
<rect x="268.5" y="234.6" width="5.1" height="7.4" fill="#155087"/>
<rect x="278.7" y="234.6" width="5.1" height="8.9" fill="#155087"/>
<rect x="288.9" y="234.6" width="5.1" height="8.9" fill="#155087"/>
<rect x="299.1" y="234.6" width="5.1" height="11.4" fill="#155087"/>
<rect x="260.1" y="163.9" width="4" height="4" fill="#c8102e"/>
<text x="266.5" y="168.45" font-size="7.2" text-anchor="start" font-weight="normal" fill="#111" textLength="22.9" lengthAdjust="spacingAndGlyphs" stroke="#111" stroke-width="0.12">Control</text>
<rect x="260.1" y="172.9" width="4" height="4" fill="#155087"/>
<text x="266.5" y="177.45" font-size="7.2" text-anchor="start" font-weight="normal" fill="#111" textLength="37.8" lengthAdjust="spacingAndGlyphs" stroke="#111" stroke-width="0.12">Navtemadlin</text>
<line x1="334.8" y1="155.3" x2="334.8" y2="234.6" stroke="#111" stroke-width="1.35"/>
<line x1="332.2" y1="159.9" x2="334.8" y2="159.9" stroke="#111" stroke-width="1"/>
<text x="330.2" y="162.65" font-size="7.9" text-anchor="end" font-weight="normal" fill="#111" textLength="8.85" lengthAdjust="spacingAndGlyphs" stroke="#111" stroke-width="0.25">300</text>
<line x1="332.2" y1="184.8" x2="334.8" y2="184.8" stroke="#111" stroke-width="1"/>
<text x="330.2" y="187.55" font-size="7.9" text-anchor="end" font-weight="normal" fill="#111" textLength="8.85" lengthAdjust="spacingAndGlyphs" stroke="#111" stroke-width="0.25">200</text>
<line x1="332.2" y1="209.7" x2="334.8" y2="209.7" stroke="#111" stroke-width="1"/>
<text x="330.2" y="212.45" font-size="7.9" text-anchor="end" font-weight="normal" fill="#111" textLength="8.85" lengthAdjust="spacingAndGlyphs" stroke="#111" stroke-width="0.25">100</text>
<line x1="332.2" y1="234.6" x2="334.8" y2="234.6" stroke="#111" stroke-width="1"/>
<text x="330.2" y="237.35" font-size="7.9" text-anchor="end" font-weight="normal" fill="#111" textLength="2.95" lengthAdjust="spacingAndGlyphs" stroke="#111" stroke-width="0.25">0</text>
<line x1="333" y1="172.35" x2="334.8" y2="172.35" stroke="#111" stroke-width="1"/>
<line x1="333" y1="197.25" x2="334.8" y2="197.25" stroke="#111" stroke-width="1"/>
<line x1="333" y1="222.15" x2="334.8" y2="222.15" stroke="#111" stroke-width="1"/>
<line x1="334.8" y1="234.6" x2="384.3" y2="234.6" stroke="#111" stroke-width="1.2"/>
<rect x="337.9" y="167" width="4.9" height="67.6" fill="#c8102e"/>
<rect x="349.9" y="173.8" width="4.9" height="60.8" fill="#c8102e"/>
<rect x="365.2" y="234.6" width="4.9" height="3.1" fill="#155087"/>
<rect x="377" y="234.6" width="4.9" height="5.3" fill="#155087"/>
<rect x="360.3" y="163.7" width="4" height="4" fill="#c8102e"/>
<text x="366.5" y="168.25" font-size="7.2" text-anchor="start" font-weight="normal" fill="#111" textLength="22.9" lengthAdjust="spacingAndGlyphs" stroke="#111" stroke-width="0.12">Control</text>
<rect x="360.3" y="172.7" width="4" height="4" fill="#155087"/>
<text x="366.5" y="177.25" font-size="7.2" text-anchor="start" font-weight="normal" fill="#111" textLength="37.8" lengthAdjust="spacingAndGlyphs" stroke="#111" stroke-width="0.12">Navtemadlin</text>
<line x1="429.2" y1="152.8" x2="429.2" y2="246.2" stroke="#111" stroke-width="1.35"/>
<line x1="426.6" y1="156.4" x2="429.2" y2="156.4" stroke="#111" stroke-width="1"/>
<text x="424" y="159.15" font-size="7.9" text-anchor="end" font-weight="normal" fill="#111" textLength="8.85" lengthAdjust="spacingAndGlyphs" stroke="#111" stroke-width="0.25">600</text>
<line x1="426.6" y1="169.4" x2="429.2" y2="169.4" stroke="#111" stroke-width="1"/>
<text x="424" y="172.15" font-size="7.9" text-anchor="end" font-weight="normal" fill="#111" textLength="8.85" lengthAdjust="spacingAndGlyphs" stroke="#111" stroke-width="0.25">500</text>
<line x1="426.6" y1="182.4" x2="429.2" y2="182.4" stroke="#111" stroke-width="1"/>
<text x="424" y="185.15" font-size="7.9" text-anchor="end" font-weight="normal" fill="#111" textLength="8.85" lengthAdjust="spacingAndGlyphs" stroke="#111" stroke-width="0.25">400</text>
<line x1="426.6" y1="195.4" x2="429.2" y2="195.4" stroke="#111" stroke-width="1"/>
<text x="424" y="198.15" font-size="7.9" text-anchor="end" font-weight="normal" fill="#111" textLength="8.85" lengthAdjust="spacingAndGlyphs" stroke="#111" stroke-width="0.25">300</text>
<line x1="426.6" y1="208.4" x2="429.2" y2="208.4" stroke="#111" stroke-width="1"/>
<text x="424" y="211.15" font-size="7.9" text-anchor="end" font-weight="normal" fill="#111" textLength="8.85" lengthAdjust="spacingAndGlyphs" stroke="#111" stroke-width="0.25">200</text>
<line x1="426.6" y1="221.4" x2="429.2" y2="221.4" stroke="#111" stroke-width="1"/>
<text x="424" y="224.15" font-size="7.9" text-anchor="end" font-weight="normal" fill="#111" textLength="8.85" lengthAdjust="spacingAndGlyphs" stroke="#111" stroke-width="0.25">100</text>
<line x1="426.6" y1="234.4" x2="429.2" y2="234.4" stroke="#111" stroke-width="1"/>
<text x="424" y="237.15" font-size="7.9" text-anchor="end" font-weight="normal" fill="#111" textLength="2.95" lengthAdjust="spacingAndGlyphs" stroke="#111" stroke-width="0.25">0</text>
<line x1="426.6" y1="240.9" x2="429.2" y2="240.9" stroke="#111" stroke-width="1"/>
<text x="424" y="243.65" font-size="7.9" text-anchor="end" font-weight="normal" fill="#111" textLength="10.1" lengthAdjust="spacingAndGlyphs" stroke="#111" stroke-width="0.25">−50</text>
<line x1="427.4" y1="162.9" x2="429.2" y2="162.9" stroke="#111" stroke-width="1"/>
<line x1="427.4" y1="175.9" x2="429.2" y2="175.9" stroke="#111" stroke-width="1"/>
<line x1="427.4" y1="188.9" x2="429.2" y2="188.9" stroke="#111" stroke-width="1"/>
<line x1="427.4" y1="201.9" x2="429.2" y2="201.9" stroke="#111" stroke-width="1"/>
<line x1="427.4" y1="214.9" x2="429.2" y2="214.9" stroke="#111" stroke-width="1"/>
<line x1="427.4" y1="227.9" x2="429.2" y2="227.9" stroke="#111" stroke-width="1"/>
<line x1="429.2" y1="234.4" x2="505.5" y2="234.4" stroke="#111" stroke-width="1.2"/>
<rect x="431.9" y="159.1" width="4" height="75.3" fill="#c8102e"/>
<rect x="437.8" y="164.2" width="4" height="70.2" fill="#c8102e"/>
<rect x="443.6" y="192.1" width="4" height="42.3" fill="#c8102e"/>
<rect x="449.3" y="197.3" width="4" height="37.1" fill="#c8102e"/>
<rect x="455" y="231.9" width="4" height="2.5" fill="#2bb53f"/>
<rect x="460.6" y="233.3" width="4" height="1.1" fill="#2bb53f"/>
<rect x="466.1" y="234.4" width="4" height="2.3" fill="#155087"/>
<rect x="471.7" y="234.4" width="4" height="2.7" fill="#155087"/>
<rect x="477.4" y="234.4" width="4" height="2.7" fill="#155087"/>
<rect x="483" y="234.4" width="4" height="3.7" fill="#2bb53f"/>
<rect x="488.7" y="234.4" width="4" height="4.1" fill="#2bb53f"/>
<rect x="494.2" y="234.4" width="4" height="7.2" fill="#2bb53f"/>
<rect x="499.9" y="234.4" width="4" height="8.9" fill="#155087"/>
<rect x="461" y="163.8" width="4" height="4" fill="#c8102e"/>
<text x="469" y="168.35" font-size="7.2" text-anchor="start" font-weight="normal" fill="#111" textLength="22.2" lengthAdjust="spacingAndGlyphs" stroke="#111" stroke-width="0.12">Control</text>
<rect x="461" y="172.65" width="4" height="4" fill="#2bb53f"/>
<text x="469" y="177.2" font-size="7.2" text-anchor="start" font-weight="normal" fill="#111" textLength="31.9" lengthAdjust="spacingAndGlyphs" stroke="#111" stroke-width="0.12">Idasanutlin</text>
<rect x="461" y="181.5" width="4" height="4" fill="#155087"/>
<text x="469" y="186.05" font-size="7.2" text-anchor="start" font-weight="normal" fill="#111" textLength="36.6" lengthAdjust="spacingAndGlyphs" stroke="#111" stroke-width="0.12">Navtemadlin</text>
<line x1="36.4" y1="272.8" x2="36.4" y2="337.9" stroke="#111" stroke-width="1.35"/>
<line x1="33.8" y1="286.9" x2="36.4" y2="286.9" stroke="#111" stroke-width="1"/>
<text x="31.8" y="289.65" font-size="7.9" text-anchor="end" font-weight="normal" fill="#111" textLength="8.85" lengthAdjust="spacingAndGlyphs" stroke="#111" stroke-width="0.25">600</text>
<line x1="33.8" y1="303.9" x2="36.4" y2="303.9" stroke="#111" stroke-width="1"/>
<text x="31.8" y="306.65" font-size="7.9" text-anchor="end" font-weight="normal" fill="#111" textLength="8.85" lengthAdjust="spacingAndGlyphs" stroke="#111" stroke-width="0.25">400</text>
<line x1="33.8" y1="320.9" x2="36.4" y2="320.9" stroke="#111" stroke-width="1"/>
<text x="31.8" y="323.65" font-size="7.9" text-anchor="end" font-weight="normal" fill="#111" textLength="8.85" lengthAdjust="spacingAndGlyphs" stroke="#111" stroke-width="0.25">200</text>
<line x1="33.8" y1="337.9" x2="36.4" y2="337.9" stroke="#111" stroke-width="1"/>
<text x="31.8" y="340.65" font-size="7.9" text-anchor="end" font-weight="normal" fill="#111" textLength="2.95" lengthAdjust="spacingAndGlyphs" stroke="#111" stroke-width="0.25">0</text>
<line x1="34.6" y1="278.4" x2="36.4" y2="278.4" stroke="#111" stroke-width="1"/>
<line x1="34.6" y1="295.4" x2="36.4" y2="295.4" stroke="#111" stroke-width="1"/>
<line x1="34.6" y1="312.4" x2="36.4" y2="312.4" stroke="#111" stroke-width="1"/>
<line x1="34.6" y1="329.4" x2="36.4" y2="329.4" stroke="#111" stroke-width="1"/>
<line x1="36.4" y1="337.9" x2="110.7" y2="337.9" stroke="#111" stroke-width="1.3"/>
<line x1="45.8" y1="277.6" x2="45.8" y2="282.2" stroke="#222" stroke-width="0.7"/>
<line x1="45.8" y1="290.9" x2="45.8" y2="295.5" stroke="#222" stroke-width="0.7"/>
<line x1="43.3" y1="277.6" x2="48.3" y2="277.6" stroke="#111" stroke-width="0.95"/>
<line x1="43.3" y1="295.5" x2="48.3" y2="295.5" stroke="#111" stroke-width="0.95"/>
<rect x="39.6" y="282.5" width="12.4" height="8.1" fill="#c8102e" stroke="#1a1a1a" stroke-width="0.75"/>
<line x1="39.6" y1="286.5" x2="52" y2="286.5" stroke="#3a0a14" stroke-width="0.95"/>
<circle cx="45.8" cy="277.6" r="0.95" fill="#111"/>
<circle cx="45.8" cy="295.5" r="0.95" fill="#111"/>
<line x1="56.2" y1="340.1" x2="68" y2="340.1" stroke="#666" stroke-width="1.4"/>
<circle cx="62.2" cy="340.3" r="1.1" fill="#111"/>
<line x1="78.85" y1="318.2" x2="78.85" y2="323" stroke="#222" stroke-width="0.7"/>
<line x1="78.85" y1="332.4" x2="78.85" y2="337.6" stroke="#222" stroke-width="0.7"/>
<line x1="76.35" y1="318.2" x2="81.35" y2="318.2" stroke="#111" stroke-width="0.95"/>
<rect x="72.7" y="323.3" width="12.3" height="8.8" fill="#155087" stroke="#1a1a1a" stroke-width="0.75"/>
<line x1="72.7" y1="327.4" x2="85" y2="327.4" stroke="#0b2a48" stroke-width="0.95"/>
<circle cx="78.85" cy="318.2" r="0.95" fill="#111"/>
<circle cx="78.85" cy="337.4" r="0.95" fill="#111"/>
<line x1="88.7" y1="310" x2="101.4" y2="310" stroke="#111" stroke-width="2.5"/>
<path d="M92.6,310L94,307.1L96.3,307.1L97.7,310L96.3,313L94,313Z" fill="#111"/>
<line x1="135.2" y1="264" x2="135.2" y2="338" stroke="#111" stroke-width="1.35"/>
<line x1="132.6" y1="278.72" x2="135.2" y2="278.72" stroke="#111" stroke-width="1"/>
<text x="130.2" y="281.47" font-size="7.9" text-anchor="end" font-weight="normal" fill="#111" textLength="8.85" lengthAdjust="spacingAndGlyphs" stroke="#111" stroke-width="0.25">600</text>
<line x1="132.6" y1="298.48" x2="135.2" y2="298.48" stroke="#111" stroke-width="1"/>
<text x="130.2" y="301.23" font-size="7.9" text-anchor="end" font-weight="normal" fill="#111" textLength="8.85" lengthAdjust="spacingAndGlyphs" stroke="#111" stroke-width="0.25">400</text>
<line x1="132.6" y1="318.24" x2="135.2" y2="318.24" stroke="#111" stroke-width="1"/>
<text x="130.2" y="320.99" font-size="7.9" text-anchor="end" font-weight="normal" fill="#111" textLength="8.85" lengthAdjust="spacingAndGlyphs" stroke="#111" stroke-width="0.25">200</text>
<line x1="132.6" y1="338" x2="135.2" y2="338" stroke="#111" stroke-width="1"/>
<text x="130.2" y="340.75" font-size="7.9" text-anchor="end" font-weight="normal" fill="#111" textLength="2.95" lengthAdjust="spacingAndGlyphs" stroke="#111" stroke-width="0.25">0</text>
<line x1="133.4" y1="268.84" x2="135.2" y2="268.84" stroke="#111" stroke-width="1"/>
<line x1="133.4" y1="288.6" x2="135.2" y2="288.6" stroke="#111" stroke-width="1"/>
<line x1="133.4" y1="308.36" x2="135.2" y2="308.36" stroke="#111" stroke-width="1"/>
<line x1="133.4" y1="328.12" x2="135.2" y2="328.12" stroke="#111" stroke-width="1"/>
<line x1="135.2" y1="338" x2="209.4" y2="338" stroke="#111" stroke-width="1.3"/>
<line x1="156.3" y1="273.5" x2="156.3" y2="326.6" stroke="#222" stroke-width="0.7"/>
<line x1="153.8" y1="280.5" x2="158.8" y2="280.5" stroke="#111" stroke-width="0.95"/>
<line x1="153.8" y1="311.3" x2="158.8" y2="311.3" stroke="#111" stroke-width="0.95"/>
<rect x="150.2" y="280.8" width="12.2" height="25.4" fill="#c8102e" stroke="#1a1a1a" stroke-width="0.75"/>
<line x1="150.2" y1="286.7" x2="162.4" y2="286.7" stroke="#3a0a14" stroke-width="0.95"/>
<circle cx="156.3" cy="273.5" r="0.95" fill="#111"/>
<circle cx="156.3" cy="326.6" r="0.95" fill="#111"/>
<line x1="191.55" y1="324.2" x2="191.55" y2="326" stroke="#222" stroke-width="0.7"/>
<line x1="191.55" y1="333.6" x2="191.55" y2="341" stroke="#222" stroke-width="0.7"/>
<rect x="185.7" y="326.3" width="11.7" height="7" fill="#155087" stroke="#1a1a1a" stroke-width="0.75"/>
<line x1="185.7" y1="329.8" x2="197.4" y2="329.8" stroke="#0b2a48" stroke-width="0.95"/>
<circle cx="191.55" cy="324.2" r="0.95" fill="#111"/>
<circle cx="191.55" cy="341" r="0.95" fill="#111"/>
<line x1="233.9" y1="276.4" x2="233.9" y2="350.5" stroke="#111" stroke-width="1.35"/>
<line x1="231.3" y1="279.9" x2="233.9" y2="279.9" stroke="#111" stroke-width="1"/>
<text x="229.3" y="282.65" font-size="7.9" text-anchor="end" font-weight="normal" fill="#111" textLength="8.85" lengthAdjust="spacingAndGlyphs" stroke="#111" stroke-width="0.25">400</text>
<line x1="231.3" y1="294.45" x2="233.9" y2="294.45" stroke="#111" stroke-width="1"/>
<text x="229.3" y="297.2" font-size="7.9" text-anchor="end" font-weight="normal" fill="#111" textLength="8.85" lengthAdjust="spacingAndGlyphs" stroke="#111" stroke-width="0.25">300</text>
<line x1="231.3" y1="309" x2="233.9" y2="309" stroke="#111" stroke-width="1"/>
<text x="229.3" y="311.75" font-size="7.9" text-anchor="end" font-weight="normal" fill="#111" textLength="8.85" lengthAdjust="spacingAndGlyphs" stroke="#111" stroke-width="0.25">200</text>
<line x1="231.3" y1="323.55" x2="233.9" y2="323.55" stroke="#111" stroke-width="1"/>
<text x="229.3" y="326.3" font-size="7.9" text-anchor="end" font-weight="normal" fill="#111" textLength="8.85" lengthAdjust="spacingAndGlyphs" stroke="#111" stroke-width="0.25">100</text>
<line x1="231.3" y1="338.1" x2="233.9" y2="338.1" stroke="#111" stroke-width="1"/>
<text x="229.3" y="340.3" font-size="7.9" text-anchor="end" font-weight="normal" fill="#111" textLength="2.95" lengthAdjust="spacingAndGlyphs" stroke="#111" stroke-width="0.25">0</text>
<line x1="231.3" y1="345.38" x2="233.9" y2="345.38" stroke="#111" stroke-width="1"/>
<text x="229.3" y="348.12" font-size="7.9" text-anchor="end" font-weight="normal" fill="#111" textLength="10.1" lengthAdjust="spacingAndGlyphs" stroke="#111" stroke-width="0.25">−50</text>
<line x1="232.1" y1="287.18" x2="233.9" y2="287.18" stroke="#111" stroke-width="1"/>
<line x1="232.1" y1="301.73" x2="233.9" y2="301.73" stroke="#111" stroke-width="1"/>
<line x1="232.1" y1="316.28" x2="233.9" y2="316.28" stroke="#111" stroke-width="1"/>
<line x1="232.1" y1="330.83" x2="233.9" y2="330.83" stroke="#111" stroke-width="1"/>
<line x1="233.9" y1="338.1" x2="308.4" y2="338.1" stroke="#111" stroke-width="1.3"/>
<line x1="248" y1="288.1" x2="260.1" y2="288.1" stroke="#111" stroke-width="1"/>
<line x1="254.05" y1="286.8" x2="254.05" y2="289.4" stroke="#111" stroke-width="0.8"/>
<path d="M252.13,288.1L254.05,286.9L255.97,288.1L254.05,289.3Z" fill="#111"/>
<line x1="287.85" y1="341.5" x2="287.85" y2="344.1" stroke="#222" stroke-width="0.7"/>
<line x1="287.85" y1="347.5" x2="287.85" y2="349" stroke="#222" stroke-width="0.7"/>
<rect x="281.6" y="344.4" width="12.5" height="2.8" fill="#155087" stroke="#1a1a1a" stroke-width="0.75"/>
<line x1="281.6" y1="345.8" x2="294.1" y2="345.8" stroke="#0b2a48" stroke-width="0.95"/>
<line x1="334.2" y1="273.3" x2="334.2" y2="345.5" stroke="#111" stroke-width="1.35"/>
<line x1="331.6" y1="277.8" x2="334.2" y2="277.8" stroke="#111" stroke-width="1"/>
<text x="329.6" y="280.55" font-size="7.9" text-anchor="end" font-weight="normal" fill="#111" textLength="8.85" lengthAdjust="spacingAndGlyphs" stroke="#111" stroke-width="0.25">500</text>
<line x1="331.6" y1="289.84" x2="334.2" y2="289.84" stroke="#111" stroke-width="1"/>
<text x="329.6" y="292.59" font-size="7.9" text-anchor="end" font-weight="normal" fill="#111" textLength="8.85" lengthAdjust="spacingAndGlyphs" stroke="#111" stroke-width="0.25">400</text>
<line x1="331.6" y1="301.88" x2="334.2" y2="301.88" stroke="#111" stroke-width="1"/>
<text x="329.6" y="304.63" font-size="7.9" text-anchor="end" font-weight="normal" fill="#111" textLength="8.85" lengthAdjust="spacingAndGlyphs" stroke="#111" stroke-width="0.25">300</text>
<line x1="331.6" y1="313.92" x2="334.2" y2="313.92" stroke="#111" stroke-width="1"/>
<text x="329.6" y="316.67" font-size="7.9" text-anchor="end" font-weight="normal" fill="#111" textLength="8.85" lengthAdjust="spacingAndGlyphs" stroke="#111" stroke-width="0.25">200</text>
<line x1="331.6" y1="325.96" x2="334.2" y2="325.96" stroke="#111" stroke-width="1"/>
<text x="329.6" y="328.71" font-size="7.9" text-anchor="end" font-weight="normal" fill="#111" textLength="8.85" lengthAdjust="spacingAndGlyphs" stroke="#111" stroke-width="0.25">100</text>
<line x1="331.6" y1="338" x2="334.2" y2="338" stroke="#111" stroke-width="1"/>
<text x="329.6" y="340" font-size="7.9" text-anchor="end" font-weight="normal" fill="#111" textLength="2.95" lengthAdjust="spacingAndGlyphs" stroke="#111" stroke-width="0.25">0</text>
<line x1="331.6" y1="344.02" x2="334.2" y2="344.02" stroke="#111" stroke-width="1"/>
<text x="329.6" y="346.77" font-size="7.9" text-anchor="end" font-weight="normal" fill="#111" textLength="10.1" lengthAdjust="spacingAndGlyphs" stroke="#111" stroke-width="0.25">−50</text>
<line x1="332.4" y1="283.82" x2="334.2" y2="283.82" stroke="#111" stroke-width="1"/>
<line x1="332.4" y1="295.86" x2="334.2" y2="295.86" stroke="#111" stroke-width="1"/>
<line x1="332.4" y1="307.9" x2="334.2" y2="307.9" stroke="#111" stroke-width="1"/>
<line x1="332.4" y1="319.94" x2="334.2" y2="319.94" stroke="#111" stroke-width="1"/>
<line x1="332.4" y1="331.98" x2="334.2" y2="331.98" stroke="#111" stroke-width="1"/>
<line x1="334.2" y1="338" x2="408.4" y2="338" stroke="#111" stroke-width="1.3"/>
<line x1="355.45" y1="284.3" x2="355.45" y2="291.4" stroke="#222" stroke-width="0.7"/>
<line x1="355.45" y1="305.1" x2="355.45" y2="311.7" stroke="#222" stroke-width="0.7"/>
<line x1="352.95" y1="284.3" x2="357.95" y2="284.3" stroke="#111" stroke-width="0.95"/>
<line x1="352.95" y1="311.7" x2="357.95" y2="311.7" stroke="#111" stroke-width="0.95"/>
<rect x="349.2" y="291.7" width="12.5" height="13.1" fill="#c8102e" stroke="#1a1a1a" stroke-width="0.75"/>
<line x1="349.2" y1="297.6" x2="361.7" y2="297.6" stroke="#3a0a14" stroke-width="0.95"/>
<circle cx="355.45" cy="284.3" r="0.95" fill="#111"/>
<circle cx="355.45" cy="311.7" r="0.95" fill="#111"/>
<line x1="389.55" y1="335.8" x2="389.55" y2="338.2" stroke="#222" stroke-width="0.7"/>
<line x1="389.55" y1="342.7" x2="389.55" y2="345" stroke="#222" stroke-width="0.7"/>
<line x1="387.05" y1="335.8" x2="392.05" y2="335.8" stroke="#111" stroke-width="0.95"/>
<line x1="387.05" y1="345" x2="392.05" y2="345" stroke="#111" stroke-width="0.95"/>
<rect x="383.5" y="338.5" width="12.1" height="3.9" fill="#155087" stroke="#1a1a1a" stroke-width="0.75"/>
<line x1="383.5" y1="340.4" x2="395.6" y2="340.4" stroke="#0b2a48" stroke-width="0.95"/>
<circle cx="389.55" cy="335.8" r="0.95" fill="#111"/>
<circle cx="389.55" cy="345" r="0.95" fill="#111"/>
<line x1="429.4" y1="273.3" x2="429.4" y2="345.4" stroke="#111" stroke-width="1.35"/>
<line x1="426.8" y1="277.38" x2="429.4" y2="277.38" stroke="#111" stroke-width="1"/>
<text x="424.8" y="280.13" font-size="7.9" text-anchor="end" font-weight="normal" fill="#111" textLength="8.85" lengthAdjust="spacingAndGlyphs" stroke="#111" stroke-width="0.25">600</text>
<line x1="426.8" y1="287.5" x2="429.4" y2="287.5" stroke="#111" stroke-width="1"/>
<text x="424.8" y="290.25" font-size="7.9" text-anchor="end" font-weight="normal" fill="#111" textLength="8.85" lengthAdjust="spacingAndGlyphs" stroke="#111" stroke-width="0.25">500</text>
<line x1="426.8" y1="297.62" x2="429.4" y2="297.62" stroke="#111" stroke-width="1"/>
<text x="424.8" y="300.37" font-size="7.9" text-anchor="end" font-weight="normal" fill="#111" textLength="8.85" lengthAdjust="spacingAndGlyphs" stroke="#111" stroke-width="0.25">400</text>
<line x1="426.8" y1="307.74" x2="429.4" y2="307.74" stroke="#111" stroke-width="1"/>
<text x="424.8" y="310.49" font-size="7.9" text-anchor="end" font-weight="normal" fill="#111" textLength="8.85" lengthAdjust="spacingAndGlyphs" stroke="#111" stroke-width="0.25">300</text>
<line x1="426.8" y1="317.86" x2="429.4" y2="317.86" stroke="#111" stroke-width="1"/>
<text x="424.8" y="320.61" font-size="7.9" text-anchor="end" font-weight="normal" fill="#111" textLength="8.85" lengthAdjust="spacingAndGlyphs" stroke="#111" stroke-width="0.25">200</text>
<line x1="426.8" y1="327.98" x2="429.4" y2="327.98" stroke="#111" stroke-width="1"/>
<text x="424.8" y="330.73" font-size="7.9" text-anchor="end" font-weight="normal" fill="#111" textLength="8.85" lengthAdjust="spacingAndGlyphs" stroke="#111" stroke-width="0.25">100</text>
<line x1="426.8" y1="338.1" x2="429.4" y2="338.1" stroke="#111" stroke-width="1"/>
<text x="424.8" y="339.7" font-size="7.9" text-anchor="end" font-weight="normal" fill="#111" textLength="2.95" lengthAdjust="spacingAndGlyphs" stroke="#111" stroke-width="0.25">0</text>
<line x1="426.8" y1="343.16" x2="429.4" y2="343.16" stroke="#111" stroke-width="1"/>
<text x="424.8" y="345.91" font-size="7.9" text-anchor="end" font-weight="normal" fill="#111" textLength="10.1" lengthAdjust="spacingAndGlyphs" stroke="#111" stroke-width="0.25">−50</text>
<line x1="427.6" y1="282.44" x2="429.4" y2="282.44" stroke="#111" stroke-width="1"/>
<line x1="427.6" y1="292.56" x2="429.4" y2="292.56" stroke="#111" stroke-width="1"/>
<line x1="427.6" y1="302.68" x2="429.4" y2="302.68" stroke="#111" stroke-width="1"/>
<line x1="427.6" y1="312.8" x2="429.4" y2="312.8" stroke="#111" stroke-width="1"/>
<line x1="427.6" y1="322.92" x2="429.4" y2="322.92" stroke="#111" stroke-width="1"/>
<line x1="427.6" y1="333.04" x2="429.4" y2="333.04" stroke="#111" stroke-width="1"/>
<line x1="429.4" y1="338.1" x2="503.8" y2="338.1" stroke="#111" stroke-width="1.3"/>
<line x1="444.45" y1="281.8" x2="444.45" y2="303" stroke="#222" stroke-width="0.7"/>
<line x1="441.95" y1="283.4" x2="446.95" y2="283.4" stroke="#111" stroke-width="0.95"/>
<line x1="441.95" y1="294.5" x2="446.95" y2="294.5" stroke="#111" stroke-width="0.95"/>
<rect x="438.5" y="283.7" width="11.9" height="8.4" fill="#c8102e" stroke="#1a1a1a" stroke-width="0.75"/>
<line x1="438.5" y1="286.4" x2="450.4" y2="286.4" stroke="#3a0a14" stroke-width="0.95"/>
<circle cx="444.45" cy="281.8" r="0.95" fill="#111"/>
<circle cx="444.45" cy="303" r="0.95" fill="#111"/>
<circle cx="444.45" cy="287.6" r="0.95" fill="#111"/>
<line x1="470.35" y1="310" x2="470.35" y2="319.8" stroke="#222" stroke-width="0.7"/>
<line x1="470.35" y1="328.3" x2="470.35" y2="332.5" stroke="#222" stroke-width="0.7"/>
<line x1="467.85" y1="319.8" x2="472.85" y2="319.8" stroke="#111" stroke-width="0.95"/>
<rect x="464.3" y="320.1" width="12.1" height="7.9" fill="#2bb53f" stroke="#1a1a1a" stroke-width="0.75"/>
<circle cx="470.35" cy="310" r="0.95" fill="#111"/>
<circle cx="470.35" cy="332.5" r="0.95" fill="#111"/>
<line x1="496.35" y1="327" x2="496.35" y2="329.6" stroke="#222" stroke-width="0.7"/>
<line x1="496.35" y1="333.8" x2="496.35" y2="340.2" stroke="#222" stroke-width="0.7"/>
<rect x="490.3" y="329.9" width="12.1" height="3.6" fill="#155087" stroke="#1a1a1a" stroke-width="0.75"/>
<line x1="490.3" y1="331.7" x2="502.4" y2="331.7" stroke="#0b2a48" stroke-width="0.95"/>
<circle cx="496.35" cy="327" r="0.95" fill="#111"/>
<circle cx="496.35" cy="340.2" r="0.95" fill="#111"/>
</svg>
</body></html>
